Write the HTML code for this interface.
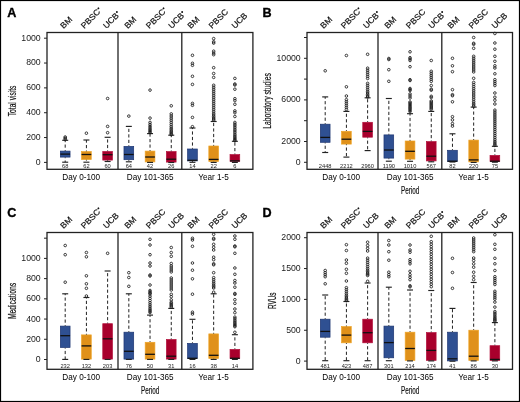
<!DOCTYPE html>
<html><head><meta charset="utf-8"><style>
html,body{margin:0;padding:0;background:#fff;}
body{width:520px;height:402px;overflow:hidden;}
svg{display:block;will-change:transform;}
</style></head><body>
<svg width="520" height="402" viewBox="0 0 520 402">
<rect x="0" y="0" width="520" height="402" fill="#fff"/>
<text x="7.3" y="16.6" font-size="12.6" font-weight="bold" stroke="#000" stroke-width="0.35" font-family="'Liberation Sans', sans-serif">A</text>
<rect x="60.35" y="151.1" width="9.7" height="6" fill="#2f5092" stroke="#1d3572" stroke-width="0.7"/>
<line x1="65.2" y1="150.8" x2="65.2" y2="140.3" stroke="#222" stroke-width="1" stroke-dasharray="3.2,2.3" stroke-dashoffset="2.4"/>
<line x1="65.2" y1="157.4" x2="65.2" y2="162.2" stroke="#222" stroke-width="1" stroke-dasharray="3.2,2.3" stroke-dashoffset="2.4"/>
<line x1="62.2" y1="140.3" x2="68.2" y2="140.3" stroke="#222" stroke-width="1.15"/>
<line x1="62.2" y1="162.2" x2="68.2" y2="162.2" stroke="#222" stroke-width="1.15"/>
<line x1="60.35" y1="154.1" x2="70.05" y2="154.1" stroke="#111" stroke-width="1.3"/>
<circle cx="65.2" cy="137" r="1.3" fill="none" stroke="#1a1a1a" stroke-width="0.85"/>
<circle cx="65.2" cy="138.2" r="1.3" fill="none" stroke="#1a1a1a" stroke-width="0.85"/>
<circle cx="65.2" cy="139.3" r="1.3" fill="none" stroke="#1a1a1a" stroke-width="0.85"/>
<text transform="translate(65.2,167.8) scale(1.08,1)" font-size="5.3" fill="#222" text-anchor="middle" font-family="'Liberation Sans', sans-serif">68</text>
<g transform="translate(63.6,29) rotate(-45)"><text x="0" y="0" font-size="8.2" transform="scale(1.05,1)" fill="#111" stroke="#111" stroke-width="0.2" font-family="'Liberation Sans', sans-serif">BM</text></g>
<rect x="81.56" y="151.6" width="9.7" height="7.9" fill="#e0911a" stroke="#eea426" stroke-width="0.7"/>
<line x1="86.41" y1="151.3" x2="86.41" y2="140" stroke="#222" stroke-width="1" stroke-dasharray="3.2,2.3" stroke-dashoffset="2.4"/>
<line x1="86.41" y1="159.8" x2="86.41" y2="162.2" stroke="#222" stroke-width="1" stroke-dasharray="3.2,2.3" stroke-dashoffset="2.4"/>
<line x1="83.41" y1="140" x2="89.41" y2="140" stroke="#222" stroke-width="1.15"/>
<line x1="83.41" y1="162.2" x2="89.41" y2="162.2" stroke="#222" stroke-width="1.15"/>
<line x1="81.56" y1="154.5" x2="91.26" y2="154.5" stroke="#111" stroke-width="1.3"/>
<circle cx="86.41" cy="133.2" r="1.3" fill="none" stroke="#1a1a1a" stroke-width="0.85"/>
<text transform="translate(86.41,167.8) scale(1.08,1)" font-size="5.3" fill="#222" text-anchor="middle" font-family="'Liberation Sans', sans-serif">62</text>
<g transform="translate(84.21,29) rotate(-45)"><text x="0" y="0" font-size="8.2" transform="scale(1.05,1)" fill="#111" stroke="#111" stroke-width="0.2" font-family="'Liberation Sans', sans-serif">PBSC</text><circle cx="24.65" cy="-4.6" r="0.95" fill="#111"/></g>
<rect x="102.77" y="151.5" width="9.7" height="8.6" fill="#a8002c" stroke="#b3123c" stroke-width="0.7"/>
<line x1="107.62" y1="151.2" x2="107.62" y2="137.3" stroke="#222" stroke-width="1" stroke-dasharray="3.2,2.3" stroke-dashoffset="2.4"/>
<line x1="107.62" y1="160.4" x2="107.62" y2="161.5" stroke="#222" stroke-width="1" stroke-dasharray="3.2,2.3" stroke-dashoffset="2.4"/>
<line x1="104.62" y1="137.3" x2="110.62" y2="137.3" stroke="#222" stroke-width="1.15"/>
<line x1="104.62" y1="161.5" x2="110.62" y2="161.5" stroke="#222" stroke-width="1.15"/>
<line x1="102.77" y1="154.7" x2="112.47" y2="154.7" stroke="#111" stroke-width="1.3"/>
<circle cx="107.62" cy="98.5" r="1.3" fill="none" stroke="#1a1a1a" stroke-width="0.85"/>
<circle cx="107.62" cy="126.4" r="1.3" fill="none" stroke="#1a1a1a" stroke-width="0.85"/>
<circle cx="107.62" cy="132.7" r="1.3" fill="none" stroke="#1a1a1a" stroke-width="0.85"/>
<text transform="translate(107.62,167.8) scale(1.08,1)" font-size="5.3" fill="#222" text-anchor="middle" font-family="'Liberation Sans', sans-serif">60</text>
<g transform="translate(106.42,29) rotate(-45)"><text x="0" y="0" font-size="8.2" transform="scale(1.05,1)" fill="#111" stroke="#111" stroke-width="0.2" font-family="'Liberation Sans', sans-serif">UCB</text><circle cx="19.38" cy="-4.6" r="0.95" fill="#111"/></g>
<rect x="123.98" y="146.4" width="9.7" height="13.3" fill="#2f5092" stroke="#1d3572" stroke-width="0.7"/>
<line x1="128.83" y1="146.1" x2="128.83" y2="126.4" stroke="#222" stroke-width="1" stroke-dasharray="3.2,2.3" stroke-dashoffset="2.4"/>
<line x1="128.83" y1="160" x2="128.83" y2="161.8" stroke="#222" stroke-width="1" stroke-dasharray="3.2,2.3" stroke-dashoffset="2.4"/>
<line x1="125.83" y1="126.4" x2="131.83" y2="126.4" stroke="#222" stroke-width="1.15"/>
<line x1="125.83" y1="161.8" x2="131.83" y2="161.8" stroke="#222" stroke-width="1.15"/>
<line x1="123.98" y1="154.5" x2="133.68" y2="154.5" stroke="#111" stroke-width="1.3"/>
<circle cx="128.83" cy="116.1" r="1.3" fill="none" stroke="#1a1a1a" stroke-width="0.85"/>
<text transform="translate(128.83,167.8) scale(1.08,1)" font-size="5.3" fill="#222" text-anchor="middle" font-family="'Liberation Sans', sans-serif">64</text>
<g transform="translate(127.73,29) rotate(-45)"><text x="0" y="0" font-size="8.2" transform="scale(1.05,1)" fill="#111" stroke="#111" stroke-width="0.2" font-family="'Liberation Sans', sans-serif">BM</text></g>
<rect x="145.19" y="151.1" width="9.7" height="10.8" fill="#e0911a" stroke="#eea426" stroke-width="0.7"/>
<line x1="150.04" y1="150.8" x2="150.04" y2="133.6" stroke="#222" stroke-width="1" stroke-dasharray="3.2,2.3" stroke-dashoffset="2.4"/>
<line x1="147.04" y1="133.6" x2="153.04" y2="133.6" stroke="#222" stroke-width="1.15"/>
<line x1="147.04" y1="162.4" x2="153.04" y2="162.4" stroke="#222" stroke-width="1.15"/>
<line x1="145.19" y1="157" x2="154.89" y2="157" stroke="#111" stroke-width="1.3"/>
<circle cx="150.04" cy="90.1" r="1.3" fill="none" stroke="#1a1a1a" stroke-width="0.85"/>
<circle cx="150.04" cy="118.1" r="1.3" fill="none" stroke="#1a1a1a" stroke-width="0.85"/>
<circle cx="150.04" cy="132.5" r="1.3" fill="none" stroke="#1a1a1a" stroke-width="0.85"/>
<circle cx="150.04" cy="131.5" r="1.3" fill="none" stroke="#1a1a1a" stroke-width="0.85"/>
<circle cx="150.04" cy="130.38" r="1.3" fill="none" stroke="#1a1a1a" stroke-width="0.85"/>
<circle cx="150.04" cy="129.13" r="1.3" fill="none" stroke="#1a1a1a" stroke-width="0.85"/>
<circle cx="150.04" cy="127.72" r="1.3" fill="none" stroke="#1a1a1a" stroke-width="0.85"/>
<circle cx="150.04" cy="126.15" r="1.3" fill="none" stroke="#1a1a1a" stroke-width="0.85"/>
<circle cx="150.04" cy="124.38" r="1.3" fill="none" stroke="#1a1a1a" stroke-width="0.85"/>
<circle cx="150.04" cy="122.41" r="1.3" fill="none" stroke="#1a1a1a" stroke-width="0.85"/>
<text transform="translate(150.04,167.8) scale(1.08,1)" font-size="5.3" fill="#222" text-anchor="middle" font-family="'Liberation Sans', sans-serif">42</text>
<g transform="translate(149.34,29) rotate(-45)"><text x="0" y="0" font-size="8.2" transform="scale(1.05,1)" fill="#111" stroke="#111" stroke-width="0.2" font-family="'Liberation Sans', sans-serif">PBSC</text><circle cx="24.65" cy="-4.6" r="0.95" fill="#111"/></g>
<rect x="166.4" y="151.6" width="9.7" height="10.5" fill="#a8002c" stroke="#b3123c" stroke-width="0.7"/>
<line x1="171.25" y1="151.3" x2="171.25" y2="135.2" stroke="#222" stroke-width="1" stroke-dasharray="3.2,2.3" stroke-dashoffset="2.4"/>
<line x1="168.25" y1="135.2" x2="174.25" y2="135.2" stroke="#222" stroke-width="1.15"/>
<line x1="168.25" y1="162.5" x2="174.25" y2="162.5" stroke="#222" stroke-width="1.15"/>
<line x1="166.4" y1="159.2" x2="176.1" y2="159.2" stroke="#111" stroke-width="1.3"/>
<circle cx="171.25" cy="105.8" r="1.3" fill="none" stroke="#1a1a1a" stroke-width="0.85"/>
<circle cx="171.25" cy="134.5" r="1.3" fill="none" stroke="#1a1a1a" stroke-width="0.85"/>
<circle cx="171.25" cy="133.5" r="1.3" fill="none" stroke="#1a1a1a" stroke-width="0.85"/>
<circle cx="171.25" cy="132.38" r="1.3" fill="none" stroke="#1a1a1a" stroke-width="0.85"/>
<circle cx="171.25" cy="131.13" r="1.3" fill="none" stroke="#1a1a1a" stroke-width="0.85"/>
<circle cx="171.25" cy="129.72" r="1.3" fill="none" stroke="#1a1a1a" stroke-width="0.85"/>
<circle cx="171.25" cy="128.15" r="1.3" fill="none" stroke="#1a1a1a" stroke-width="0.85"/>
<circle cx="171.25" cy="126.38" r="1.3" fill="none" stroke="#1a1a1a" stroke-width="0.85"/>
<circle cx="171.25" cy="124.41" r="1.3" fill="none" stroke="#1a1a1a" stroke-width="0.85"/>
<circle cx="171.25" cy="122.31" r="1.3" fill="none" stroke="#1a1a1a" stroke-width="0.85"/>
<circle cx="171.25" cy="120.21" r="1.3" fill="none" stroke="#1a1a1a" stroke-width="0.85"/>
<circle cx="171.25" cy="118.11" r="1.3" fill="none" stroke="#1a1a1a" stroke-width="0.85"/>
<circle cx="171.25" cy="116.01" r="1.3" fill="none" stroke="#1a1a1a" stroke-width="0.85"/>
<circle cx="171.25" cy="113.91" r="1.3" fill="none" stroke="#1a1a1a" stroke-width="0.85"/>
<text transform="translate(171.25,167.8) scale(1.08,1)" font-size="5.3" fill="#222" text-anchor="middle" font-family="'Liberation Sans', sans-serif">26</text>
<g transform="translate(171.7,29) rotate(-45)"><text x="0" y="0" font-size="8.2" transform="scale(1.05,1)" fill="#111" stroke="#111" stroke-width="0.2" font-family="'Liberation Sans', sans-serif">UCB</text><circle cx="19.38" cy="-4.6" r="0.95" fill="#111"/></g>
<rect x="187.61" y="149" width="9.7" height="11.9" fill="#2f5092" stroke="#1d3572" stroke-width="0.7"/>
<line x1="192.46" y1="148.7" x2="192.46" y2="128" stroke="#222" stroke-width="1" stroke-dasharray="3.2,2.3" stroke-dashoffset="2.4"/>
<line x1="192.46" y1="161.2" x2="192.46" y2="162.3" stroke="#222" stroke-width="1" stroke-dasharray="3.2,2.3" stroke-dashoffset="2.4"/>
<line x1="189.46" y1="128" x2="195.46" y2="128" stroke="#222" stroke-width="1.15"/>
<line x1="189.46" y1="162.3" x2="195.46" y2="162.3" stroke="#222" stroke-width="1.15"/>
<line x1="187.61" y1="160.3" x2="197.31" y2="160.3" stroke="#111" stroke-width="1.3"/>
<circle cx="192.46" cy="55.3" r="1.3" fill="none" stroke="#1a1a1a" stroke-width="0.85"/>
<circle cx="192.46" cy="63.3" r="1.3" fill="none" stroke="#1a1a1a" stroke-width="0.85"/>
<circle cx="192.46" cy="65.3" r="1.3" fill="none" stroke="#1a1a1a" stroke-width="0.85"/>
<circle cx="192.46" cy="76.3" r="1.3" fill="none" stroke="#1a1a1a" stroke-width="0.85"/>
<circle cx="192.46" cy="84.4" r="1.3" fill="none" stroke="#1a1a1a" stroke-width="0.85"/>
<circle cx="192.46" cy="103.4" r="1.3" fill="none" stroke="#1a1a1a" stroke-width="0.85"/>
<circle cx="192.46" cy="105.3" r="1.3" fill="none" stroke="#1a1a1a" stroke-width="0.85"/>
<circle cx="192.46" cy="117.4" r="1.3" fill="none" stroke="#1a1a1a" stroke-width="0.85"/>
<circle cx="192.46" cy="126.7" r="1.3" fill="none" stroke="#1a1a1a" stroke-width="0.85"/>
<text transform="translate(192.46,167.8) scale(1.08,1)" font-size="5.3" fill="#222" text-anchor="middle" font-family="'Liberation Sans', sans-serif">14</text>
<g transform="translate(190.86,29) rotate(-45)"><text x="0" y="0" font-size="8.2" transform="scale(1.05,1)" fill="#111" stroke="#111" stroke-width="0.2" font-family="'Liberation Sans', sans-serif">BM</text></g>
<rect x="208.82" y="146" width="9.7" height="15.5" fill="#e0911a" stroke="#eea426" stroke-width="0.7"/>
<line x1="213.67" y1="145.7" x2="213.67" y2="121.5" stroke="#222" stroke-width="1" stroke-dasharray="3.2,2.3" stroke-dashoffset="2.4"/>
<line x1="213.67" y1="161.8" x2="213.67" y2="162.4" stroke="#222" stroke-width="1" stroke-dasharray="3.2,2.3" stroke-dashoffset="2.4"/>
<line x1="210.67" y1="121.5" x2="216.67" y2="121.5" stroke="#222" stroke-width="1.15"/>
<line x1="210.67" y1="162.4" x2="216.67" y2="162.4" stroke="#222" stroke-width="1.15"/>
<line x1="208.82" y1="159.4" x2="218.52" y2="159.4" stroke="#111" stroke-width="1.3"/>
<circle cx="213.67" cy="38.6" r="1.3" fill="none" stroke="#1a1a1a" stroke-width="0.85"/>
<circle cx="213.67" cy="41.8" r="1.3" fill="none" stroke="#1a1a1a" stroke-width="0.85"/>
<circle cx="213.67" cy="43.1" r="1.3" fill="none" stroke="#1a1a1a" stroke-width="0.85"/>
<circle cx="213.67" cy="51.2" r="1.3" fill="none" stroke="#1a1a1a" stroke-width="0.85"/>
<circle cx="213.67" cy="53.1" r="1.3" fill="none" stroke="#1a1a1a" stroke-width="0.85"/>
<circle cx="213.67" cy="54.7" r="1.3" fill="none" stroke="#1a1a1a" stroke-width="0.85"/>
<circle cx="213.67" cy="67.7" r="1.3" fill="none" stroke="#1a1a1a" stroke-width="0.85"/>
<circle cx="213.67" cy="73.5" r="1.3" fill="none" stroke="#1a1a1a" stroke-width="0.85"/>
<circle cx="213.67" cy="77.4" r="1.3" fill="none" stroke="#1a1a1a" stroke-width="0.85"/>
<circle cx="213.67" cy="120.2" r="1.3" fill="none" stroke="#1a1a1a" stroke-width="0.85"/>
<circle cx="213.67" cy="119.1" r="1.3" fill="none" stroke="#1a1a1a" stroke-width="0.85"/>
<circle cx="213.67" cy="117.87" r="1.3" fill="none" stroke="#1a1a1a" stroke-width="0.85"/>
<circle cx="213.67" cy="116.49" r="1.3" fill="none" stroke="#1a1a1a" stroke-width="0.85"/>
<circle cx="213.67" cy="114.94" r="1.3" fill="none" stroke="#1a1a1a" stroke-width="0.85"/>
<circle cx="213.67" cy="113.21" r="1.3" fill="none" stroke="#1a1a1a" stroke-width="0.85"/>
<circle cx="213.67" cy="111.27" r="1.3" fill="none" stroke="#1a1a1a" stroke-width="0.85"/>
<circle cx="213.67" cy="109.27" r="1.3" fill="none" stroke="#1a1a1a" stroke-width="0.85"/>
<circle cx="213.67" cy="107.27" r="1.3" fill="none" stroke="#1a1a1a" stroke-width="0.85"/>
<circle cx="213.67" cy="105.27" r="1.3" fill="none" stroke="#1a1a1a" stroke-width="0.85"/>
<circle cx="213.67" cy="103.27" r="1.3" fill="none" stroke="#1a1a1a" stroke-width="0.85"/>
<circle cx="213.67" cy="101.27" r="1.3" fill="none" stroke="#1a1a1a" stroke-width="0.85"/>
<circle cx="213.67" cy="99.27" r="1.3" fill="none" stroke="#1a1a1a" stroke-width="0.85"/>
<circle cx="213.67" cy="97.27" r="1.3" fill="none" stroke="#1a1a1a" stroke-width="0.85"/>
<circle cx="213.67" cy="95.27" r="1.3" fill="none" stroke="#1a1a1a" stroke-width="0.85"/>
<circle cx="213.67" cy="93.27" r="1.3" fill="none" stroke="#1a1a1a" stroke-width="0.85"/>
<circle cx="213.67" cy="91.27" r="1.3" fill="none" stroke="#1a1a1a" stroke-width="0.85"/>
<circle cx="213.67" cy="89.27" r="1.3" fill="none" stroke="#1a1a1a" stroke-width="0.85"/>
<circle cx="213.67" cy="87.27" r="1.3" fill="none" stroke="#1a1a1a" stroke-width="0.85"/>
<circle cx="213.67" cy="85.27" r="1.3" fill="none" stroke="#1a1a1a" stroke-width="0.85"/>
<text transform="translate(213.67,167.8) scale(1.08,1)" font-size="5.3" fill="#222" text-anchor="middle" font-family="'Liberation Sans', sans-serif">22</text>
<g transform="translate(212.07,29) rotate(-45)"><text x="0" y="0" font-size="8.2" transform="scale(1.05,1)" fill="#111" stroke="#111" stroke-width="0.2" font-family="'Liberation Sans', sans-serif">PBSC</text></g>
<rect x="230.03" y="154.6" width="9.7" height="6.7" fill="#a8002c" stroke="#b3123c" stroke-width="0.7"/>
<line x1="234.88" y1="154.3" x2="234.88" y2="141.3" stroke="#222" stroke-width="1" stroke-dasharray="3.2,2.3" stroke-dashoffset="2.4"/>
<line x1="234.88" y1="161.6" x2="234.88" y2="162.4" stroke="#222" stroke-width="1" stroke-dasharray="3.2,2.3" stroke-dashoffset="2.4"/>
<line x1="231.88" y1="141.3" x2="237.88" y2="141.3" stroke="#222" stroke-width="1.15"/>
<line x1="231.88" y1="162.4" x2="237.88" y2="162.4" stroke="#222" stroke-width="1.15"/>
<line x1="230.03" y1="160.9" x2="239.73" y2="160.9" stroke="#111" stroke-width="1.3"/>
<circle cx="234.88" cy="78.4" r="1.3" fill="none" stroke="#1a1a1a" stroke-width="0.85"/>
<circle cx="234.88" cy="84" r="1.3" fill="none" stroke="#1a1a1a" stroke-width="0.85"/>
<circle cx="234.88" cy="85" r="1.3" fill="none" stroke="#1a1a1a" stroke-width="0.85"/>
<circle cx="234.88" cy="89.2" r="1.3" fill="none" stroke="#1a1a1a" stroke-width="0.85"/>
<circle cx="234.88" cy="98.7" r="1.3" fill="none" stroke="#1a1a1a" stroke-width="0.85"/>
<circle cx="234.88" cy="100.6" r="1.3" fill="none" stroke="#1a1a1a" stroke-width="0.85"/>
<circle cx="234.88" cy="104.3" r="1.3" fill="none" stroke="#1a1a1a" stroke-width="0.85"/>
<circle cx="234.88" cy="110.9" r="1.3" fill="none" stroke="#1a1a1a" stroke-width="0.85"/>
<circle cx="234.88" cy="112.7" r="1.3" fill="none" stroke="#1a1a1a" stroke-width="0.85"/>
<circle cx="234.88" cy="116.5" r="1.3" fill="none" stroke="#1a1a1a" stroke-width="0.85"/>
<circle cx="234.88" cy="140.7" r="1.3" fill="none" stroke="#1a1a1a" stroke-width="0.85"/>
<circle cx="234.88" cy="139.7" r="1.3" fill="none" stroke="#1a1a1a" stroke-width="0.85"/>
<circle cx="234.88" cy="138.58" r="1.3" fill="none" stroke="#1a1a1a" stroke-width="0.85"/>
<circle cx="234.88" cy="137.33" r="1.3" fill="none" stroke="#1a1a1a" stroke-width="0.85"/>
<circle cx="234.88" cy="135.92" r="1.3" fill="none" stroke="#1a1a1a" stroke-width="0.85"/>
<circle cx="234.88" cy="134.35" r="1.3" fill="none" stroke="#1a1a1a" stroke-width="0.85"/>
<circle cx="234.88" cy="132.65" r="1.3" fill="none" stroke="#1a1a1a" stroke-width="0.85"/>
<circle cx="234.88" cy="130.95" r="1.3" fill="none" stroke="#1a1a1a" stroke-width="0.85"/>
<circle cx="234.88" cy="129.25" r="1.3" fill="none" stroke="#1a1a1a" stroke-width="0.85"/>
<circle cx="234.88" cy="127.55" r="1.3" fill="none" stroke="#1a1a1a" stroke-width="0.85"/>
<circle cx="234.88" cy="125.85" r="1.3" fill="none" stroke="#1a1a1a" stroke-width="0.85"/>
<circle cx="234.88" cy="124.15" r="1.3" fill="none" stroke="#1a1a1a" stroke-width="0.85"/>
<circle cx="234.88" cy="122.45" r="1.3" fill="none" stroke="#1a1a1a" stroke-width="0.85"/>
<text transform="translate(234.88,167.8) scale(1.08,1)" font-size="5.3" fill="#222" text-anchor="middle" font-family="'Liberation Sans', sans-serif">6</text>
<g transform="translate(234.98,29) rotate(-45)"><text x="0" y="0" font-size="8.2" transform="scale(1.05,1)" fill="#111" stroke="#111" stroke-width="0.2" font-family="'Liberation Sans', sans-serif">UCB</text></g>
<rect x="47" y="32.5" width="205.9" height="136.8" fill="none" stroke="#222" stroke-width="1.3"/>
<line x1="118" y1="32.5" x2="118" y2="169.3" stroke="#222" stroke-width="1.3"/>
<line x1="181.8" y1="32.5" x2="181.8" y2="169.3" stroke="#222" stroke-width="1.3"/>
<line x1="44" y1="162.4" x2="47" y2="162.4" stroke="#222" stroke-width="1"/>
<text transform="translate(40.7,164.85) scale(1.04,1)" font-size="8.4" fill="#222" text-anchor="end" font-family="'Liberation Sans', sans-serif">0</text>
<line x1="44" y1="137.56" x2="47" y2="137.56" stroke="#222" stroke-width="1"/>
<text transform="translate(40.7,140.01) scale(1.04,1)" font-size="8.4" fill="#222" text-anchor="end" font-family="'Liberation Sans', sans-serif">200</text>
<line x1="44" y1="112.72" x2="47" y2="112.72" stroke="#222" stroke-width="1"/>
<text transform="translate(40.7,115.17) scale(1.04,1)" font-size="8.4" fill="#222" text-anchor="end" font-family="'Liberation Sans', sans-serif">400</text>
<line x1="44" y1="87.88" x2="47" y2="87.88" stroke="#222" stroke-width="1"/>
<text transform="translate(40.7,90.33) scale(1.04,1)" font-size="8.4" fill="#222" text-anchor="end" font-family="'Liberation Sans', sans-serif">600</text>
<line x1="44" y1="63.04" x2="47" y2="63.04" stroke="#222" stroke-width="1"/>
<text transform="translate(40.7,65.49) scale(1.04,1)" font-size="8.4" fill="#222" text-anchor="end" font-family="'Liberation Sans', sans-serif">800</text>
<line x1="44" y1="38.2" x2="47" y2="38.2" stroke="#222" stroke-width="1"/>
<text transform="translate(40.7,40.65) scale(1.04,1)" font-size="8.4" fill="#222" text-anchor="end" font-family="'Liberation Sans', sans-serif">1000</text>
<text x="81.2" y="180.2" font-size="8.2" fill="#000" text-anchor="middle" font-family="'Liberation Sans', sans-serif">Day 0-100</text>
<text x="150.2" y="180.2" font-size="8.2" fill="#000" text-anchor="middle" font-family="'Liberation Sans', sans-serif">Day 101-365</text>
<text x="213.5" y="180.2" font-size="8.2" fill="#000" text-anchor="middle" font-family="'Liberation Sans', sans-serif">Year 1-5</text>
<text transform="translate(15.9,100.9) rotate(-90) scale(0.616,1)" font-size="10.8" fill="#111" stroke="#111" stroke-width="0.2" text-anchor="middle" font-family="'Liberation Sans', sans-serif">Total visits</text>
<text x="262.6" y="16.6" font-size="12.6" font-weight="bold" stroke="#000" stroke-width="0.35" font-family="'Liberation Sans', sans-serif">B</text>
<rect x="320.35" y="124.2" width="9.7" height="18.1" fill="#2f5092" stroke="#1d3572" stroke-width="0.7"/>
<line x1="325.2" y1="123.9" x2="325.2" y2="96.9" stroke="#222" stroke-width="1" stroke-dasharray="3.2,2.3" stroke-dashoffset="2.4"/>
<line x1="325.2" y1="142.6" x2="325.2" y2="152.5" stroke="#222" stroke-width="1" stroke-dasharray="3.2,2.3" stroke-dashoffset="2.4"/>
<line x1="322.2" y1="96.9" x2="328.2" y2="96.9" stroke="#222" stroke-width="1.15"/>
<line x1="322.2" y1="152.5" x2="328.2" y2="152.5" stroke="#222" stroke-width="1.15"/>
<line x1="320.35" y1="137.4" x2="330.05" y2="137.4" stroke="#111" stroke-width="1.3"/>
<circle cx="325.2" cy="70.8" r="1.3" fill="none" stroke="#1a1a1a" stroke-width="0.85"/>
<text transform="translate(325.2,167.8) scale(1.08,1)" font-size="5.3" fill="#222" text-anchor="middle" font-family="'Liberation Sans', sans-serif">2448</text>
<g transform="translate(323.6,29) rotate(-45)"><text x="0" y="0" font-size="8.2" transform="scale(1.05,1)" fill="#111" stroke="#111" stroke-width="0.2" font-family="'Liberation Sans', sans-serif">BM</text></g>
<rect x="341.56" y="131.3" width="9.7" height="12.8" fill="#e0911a" stroke="#eea426" stroke-width="0.7"/>
<line x1="346.41" y1="131" x2="346.41" y2="111.4" stroke="#222" stroke-width="1" stroke-dasharray="3.2,2.3" stroke-dashoffset="2.4"/>
<line x1="346.41" y1="144.4" x2="346.41" y2="157.1" stroke="#222" stroke-width="1" stroke-dasharray="3.2,2.3" stroke-dashoffset="2.4"/>
<line x1="343.41" y1="111.4" x2="349.41" y2="111.4" stroke="#222" stroke-width="1.15"/>
<line x1="343.41" y1="157.1" x2="349.41" y2="157.1" stroke="#222" stroke-width="1.15"/>
<line x1="341.56" y1="139.2" x2="351.26" y2="139.2" stroke="#111" stroke-width="1.3"/>
<circle cx="346.41" cy="55.5" r="1.3" fill="none" stroke="#1a1a1a" stroke-width="0.85"/>
<circle cx="346.41" cy="86.8" r="1.3" fill="none" stroke="#1a1a1a" stroke-width="0.85"/>
<circle cx="346.41" cy="96" r="1.3" fill="none" stroke="#1a1a1a" stroke-width="0.85"/>
<circle cx="346.41" cy="99.7" r="1.3" fill="none" stroke="#1a1a1a" stroke-width="0.85"/>
<circle cx="346.41" cy="101.65" r="1.3" fill="none" stroke="#1a1a1a" stroke-width="0.85"/>
<circle cx="346.41" cy="103.6" r="1.3" fill="none" stroke="#1a1a1a" stroke-width="0.85"/>
<circle cx="346.41" cy="105.55" r="1.3" fill="none" stroke="#1a1a1a" stroke-width="0.85"/>
<circle cx="346.41" cy="107.5" r="1.3" fill="none" stroke="#1a1a1a" stroke-width="0.85"/>
<circle cx="346.41" cy="109.45" r="1.3" fill="none" stroke="#1a1a1a" stroke-width="0.85"/>
<text transform="translate(346.41,167.8) scale(1.08,1)" font-size="5.3" fill="#222" text-anchor="middle" font-family="'Liberation Sans', sans-serif">2212</text>
<g transform="translate(344.21,29) rotate(-45)"><text x="0" y="0" font-size="8.2" transform="scale(1.05,1)" fill="#111" stroke="#111" stroke-width="0.2" font-family="'Liberation Sans', sans-serif">PBSC</text><circle cx="24.65" cy="-4.6" r="0.95" fill="#111"/></g>
<rect x="362.77" y="122.3" width="9.7" height="14.9" fill="#a8002c" stroke="#b3123c" stroke-width="0.7"/>
<line x1="367.62" y1="122" x2="367.62" y2="97.8" stroke="#222" stroke-width="1" stroke-dasharray="3.2,2.3" stroke-dashoffset="2.4"/>
<line x1="367.62" y1="137.5" x2="367.62" y2="150.6" stroke="#222" stroke-width="1" stroke-dasharray="3.2,2.3" stroke-dashoffset="2.4"/>
<line x1="364.62" y1="97.8" x2="370.62" y2="97.8" stroke="#222" stroke-width="1.15"/>
<line x1="364.62" y1="150.6" x2="370.62" y2="150.6" stroke="#222" stroke-width="1.15"/>
<line x1="362.77" y1="131.4" x2="372.47" y2="131.4" stroke="#111" stroke-width="1.3"/>
<circle cx="367.62" cy="54.3" r="1.3" fill="none" stroke="#1a1a1a" stroke-width="0.85"/>
<circle cx="367.62" cy="68.2" r="1.3" fill="none" stroke="#1a1a1a" stroke-width="0.85"/>
<circle cx="367.62" cy="70.25" r="1.3" fill="none" stroke="#1a1a1a" stroke-width="0.85"/>
<circle cx="367.62" cy="72.3" r="1.3" fill="none" stroke="#1a1a1a" stroke-width="0.85"/>
<circle cx="367.62" cy="74.35" r="1.3" fill="none" stroke="#1a1a1a" stroke-width="0.85"/>
<circle cx="367.62" cy="76.4" r="1.3" fill="none" stroke="#1a1a1a" stroke-width="0.85"/>
<circle cx="367.62" cy="78.45" r="1.3" fill="none" stroke="#1a1a1a" stroke-width="0.85"/>
<circle cx="367.62" cy="97" r="1.3" fill="none" stroke="#1a1a1a" stroke-width="0.85"/>
<circle cx="367.62" cy="95.8" r="1.3" fill="none" stroke="#1a1a1a" stroke-width="0.85"/>
<circle cx="367.62" cy="94.46" r="1.3" fill="none" stroke="#1a1a1a" stroke-width="0.85"/>
<circle cx="367.62" cy="92.95" r="1.3" fill="none" stroke="#1a1a1a" stroke-width="0.85"/>
<circle cx="367.62" cy="91.26" r="1.3" fill="none" stroke="#1a1a1a" stroke-width="0.85"/>
<circle cx="367.62" cy="89.38" r="1.3" fill="none" stroke="#1a1a1a" stroke-width="0.85"/>
<circle cx="367.62" cy="87.38" r="1.3" fill="none" stroke="#1a1a1a" stroke-width="0.85"/>
<circle cx="367.62" cy="85.38" r="1.3" fill="none" stroke="#1a1a1a" stroke-width="0.85"/>
<circle cx="367.62" cy="83.38" r="1.3" fill="none" stroke="#1a1a1a" stroke-width="0.85"/>
<text transform="translate(367.62,167.8) scale(1.08,1)" font-size="5.3" fill="#222" text-anchor="middle" font-family="'Liberation Sans', sans-serif">2960</text>
<g transform="translate(366.42,29) rotate(-45)"><text x="0" y="0" font-size="8.2" transform="scale(1.05,1)" fill="#111" stroke="#111" stroke-width="0.2" font-family="'Liberation Sans', sans-serif">UCB</text><circle cx="19.38" cy="-4.6" r="0.95" fill="#111"/></g>
<rect x="383.98" y="134.9" width="9.7" height="23.2" fill="#2f5092" stroke="#1d3572" stroke-width="0.7"/>
<line x1="388.83" y1="134.6" x2="388.83" y2="98.5" stroke="#222" stroke-width="1" stroke-dasharray="3.2,2.3" stroke-dashoffset="2.4"/>
<line x1="388.83" y1="158.4" x2="388.83" y2="161.2" stroke="#222" stroke-width="1" stroke-dasharray="3.2,2.3" stroke-dashoffset="2.4"/>
<line x1="385.83" y1="98.5" x2="391.83" y2="98.5" stroke="#222" stroke-width="1.15"/>
<line x1="385.83" y1="161.2" x2="391.83" y2="161.2" stroke="#222" stroke-width="1.15"/>
<line x1="383.98" y1="150" x2="393.68" y2="150" stroke="#111" stroke-width="1.3"/>
<circle cx="388.83" cy="58.5" r="1.3" fill="none" stroke="#1a1a1a" stroke-width="0.85"/>
<circle cx="388.83" cy="59.5" r="1.3" fill="none" stroke="#1a1a1a" stroke-width="0.85"/>
<circle cx="388.83" cy="69.7" r="1.3" fill="none" stroke="#1a1a1a" stroke-width="0.85"/>
<circle cx="388.83" cy="81.3" r="1.3" fill="none" stroke="#1a1a1a" stroke-width="0.85"/>
<text transform="translate(388.83,167.8) scale(1.08,1)" font-size="5.3" fill="#222" text-anchor="middle" font-family="'Liberation Sans', sans-serif">1190</text>
<g transform="translate(387.73,29) rotate(-45)"><text x="0" y="0" font-size="8.2" transform="scale(1.05,1)" fill="#111" stroke="#111" stroke-width="0.2" font-family="'Liberation Sans', sans-serif">BM</text></g>
<rect x="405.19" y="141" width="9.7" height="18.1" fill="#e0911a" stroke="#eea426" stroke-width="0.7"/>
<line x1="410.04" y1="140.7" x2="410.04" y2="113.7" stroke="#222" stroke-width="1" stroke-dasharray="3.2,2.3" stroke-dashoffset="2.4"/>
<line x1="410.04" y1="159.4" x2="410.04" y2="161.3" stroke="#222" stroke-width="1" stroke-dasharray="3.2,2.3" stroke-dashoffset="2.4"/>
<line x1="407.04" y1="113.7" x2="413.04" y2="113.7" stroke="#222" stroke-width="1.15"/>
<line x1="407.04" y1="161.3" x2="413.04" y2="161.3" stroke="#222" stroke-width="1.15"/>
<line x1="405.19" y1="151.3" x2="414.89" y2="151.3" stroke="#111" stroke-width="1.3"/>
<circle cx="410.04" cy="51.8" r="1.3" fill="none" stroke="#1a1a1a" stroke-width="0.85"/>
<circle cx="410.04" cy="57.7" r="1.3" fill="none" stroke="#1a1a1a" stroke-width="0.85"/>
<circle cx="410.04" cy="59" r="1.3" fill="none" stroke="#1a1a1a" stroke-width="0.85"/>
<circle cx="410.04" cy="60.5" r="1.3" fill="none" stroke="#1a1a1a" stroke-width="0.85"/>
<circle cx="410.04" cy="66.7" r="1.3" fill="none" stroke="#1a1a1a" stroke-width="0.85"/>
<circle cx="410.04" cy="79.7" r="1.3" fill="none" stroke="#1a1a1a" stroke-width="0.85"/>
<circle cx="410.04" cy="80.5" r="1.3" fill="none" stroke="#1a1a1a" stroke-width="0.85"/>
<circle cx="410.04" cy="88.5" r="1.3" fill="none" stroke="#1a1a1a" stroke-width="0.85"/>
<circle cx="410.04" cy="89.5" r="1.3" fill="none" stroke="#1a1a1a" stroke-width="0.85"/>
<circle cx="410.04" cy="90.5" r="1.3" fill="none" stroke="#1a1a1a" stroke-width="0.85"/>
<circle cx="410.04" cy="94" r="1.3" fill="none" stroke="#1a1a1a" stroke-width="0.85"/>
<circle cx="410.04" cy="96" r="1.3" fill="none" stroke="#1a1a1a" stroke-width="0.85"/>
<circle cx="410.04" cy="98" r="1.3" fill="none" stroke="#1a1a1a" stroke-width="0.85"/>
<circle cx="410.04" cy="102" r="1.3" fill="none" stroke="#1a1a1a" stroke-width="0.85"/>
<circle cx="410.04" cy="103.2" r="1.3" fill="none" stroke="#1a1a1a" stroke-width="0.85"/>
<circle cx="410.04" cy="104.4" r="1.3" fill="none" stroke="#1a1a1a" stroke-width="0.85"/>
<circle cx="410.04" cy="105.6" r="1.3" fill="none" stroke="#1a1a1a" stroke-width="0.85"/>
<circle cx="410.04" cy="106.8" r="1.3" fill="none" stroke="#1a1a1a" stroke-width="0.85"/>
<circle cx="410.04" cy="108" r="1.3" fill="none" stroke="#1a1a1a" stroke-width="0.85"/>
<circle cx="410.04" cy="109.2" r="1.3" fill="none" stroke="#1a1a1a" stroke-width="0.85"/>
<circle cx="410.04" cy="110.4" r="1.3" fill="none" stroke="#1a1a1a" stroke-width="0.85"/>
<circle cx="410.04" cy="111.6" r="1.3" fill="none" stroke="#1a1a1a" stroke-width="0.85"/>
<text transform="translate(410.04,167.8) scale(1.08,1)" font-size="5.3" fill="#222" text-anchor="middle" font-family="'Liberation Sans', sans-serif">1010</text>
<g transform="translate(409.34,29) rotate(-45)"><text x="0" y="0" font-size="8.2" transform="scale(1.05,1)" fill="#111" stroke="#111" stroke-width="0.2" font-family="'Liberation Sans', sans-serif">PBSC</text></g>
<rect x="426.4" y="141.6" width="9.7" height="19.3" fill="#a8002c" stroke="#b3123c" stroke-width="0.7"/>
<line x1="431.25" y1="141.3" x2="431.25" y2="111.4" stroke="#222" stroke-width="1" stroke-dasharray="3.2,2.3" stroke-dashoffset="2.4"/>
<line x1="431.25" y1="161.2" x2="431.25" y2="161.8" stroke="#222" stroke-width="1" stroke-dasharray="3.2,2.3" stroke-dashoffset="2.4"/>
<line x1="428.25" y1="111.4" x2="434.25" y2="111.4" stroke="#222" stroke-width="1.15"/>
<line x1="428.25" y1="161.8" x2="434.25" y2="161.8" stroke="#222" stroke-width="1.15"/>
<line x1="426.4" y1="156.2" x2="436.1" y2="156.2" stroke="#111" stroke-width="1.3"/>
<circle cx="431.25" cy="60.5" r="1.3" fill="none" stroke="#1a1a1a" stroke-width="0.85"/>
<circle cx="431.25" cy="71.3" r="1.3" fill="none" stroke="#1a1a1a" stroke-width="0.85"/>
<circle cx="431.25" cy="73.3" r="1.3" fill="none" stroke="#1a1a1a" stroke-width="0.85"/>
<circle cx="431.25" cy="75.3" r="1.3" fill="none" stroke="#1a1a1a" stroke-width="0.85"/>
<circle cx="431.25" cy="77.3" r="1.3" fill="none" stroke="#1a1a1a" stroke-width="0.85"/>
<circle cx="431.25" cy="79.3" r="1.3" fill="none" stroke="#1a1a1a" stroke-width="0.85"/>
<circle cx="431.25" cy="81.3" r="1.3" fill="none" stroke="#1a1a1a" stroke-width="0.85"/>
<circle cx="431.25" cy="85.5" r="1.3" fill="none" stroke="#1a1a1a" stroke-width="0.85"/>
<circle cx="431.25" cy="89.2" r="1.3" fill="none" stroke="#1a1a1a" stroke-width="0.85"/>
<circle cx="431.25" cy="90.2" r="1.3" fill="none" stroke="#1a1a1a" stroke-width="0.85"/>
<circle cx="431.25" cy="96.3" r="1.3" fill="none" stroke="#1a1a1a" stroke-width="0.85"/>
<circle cx="431.25" cy="97.5" r="1.3" fill="none" stroke="#1a1a1a" stroke-width="0.85"/>
<circle cx="431.25" cy="101" r="1.3" fill="none" stroke="#1a1a1a" stroke-width="0.85"/>
<circle cx="431.25" cy="102.2" r="1.3" fill="none" stroke="#1a1a1a" stroke-width="0.85"/>
<circle cx="431.25" cy="103.4" r="1.3" fill="none" stroke="#1a1a1a" stroke-width="0.85"/>
<circle cx="431.25" cy="104.6" r="1.3" fill="none" stroke="#1a1a1a" stroke-width="0.85"/>
<circle cx="431.25" cy="105.8" r="1.3" fill="none" stroke="#1a1a1a" stroke-width="0.85"/>
<circle cx="431.25" cy="107" r="1.3" fill="none" stroke="#1a1a1a" stroke-width="0.85"/>
<circle cx="431.25" cy="108.2" r="1.3" fill="none" stroke="#1a1a1a" stroke-width="0.85"/>
<circle cx="431.25" cy="109.4" r="1.3" fill="none" stroke="#1a1a1a" stroke-width="0.85"/>
<text transform="translate(431.25,167.8) scale(1.08,1)" font-size="5.3" fill="#222" text-anchor="middle" font-family="'Liberation Sans', sans-serif">567</text>
<g transform="translate(431.7,29) rotate(-45)"><text x="0" y="0" font-size="8.2" transform="scale(1.05,1)" fill="#111" stroke="#111" stroke-width="0.2" font-family="'Liberation Sans', sans-serif">UCB</text><circle cx="19.38" cy="-4.6" r="0.95" fill="#111"/></g>
<rect x="447.61" y="150.3" width="9.7" height="11.2" fill="#2f5092" stroke="#1d3572" stroke-width="0.7"/>
<line x1="452.46" y1="150" x2="452.46" y2="133.8" stroke="#222" stroke-width="1" stroke-dasharray="3.2,2.3" stroke-dashoffset="2.4"/>
<line x1="449.46" y1="133.8" x2="455.46" y2="133.8" stroke="#222" stroke-width="1.15"/>
<line x1="449.46" y1="162" x2="455.46" y2="162" stroke="#222" stroke-width="1.15"/>
<line x1="447.61" y1="161.2" x2="457.31" y2="161.2" stroke="#111" stroke-width="1.3"/>
<circle cx="452.46" cy="58.3" r="1.3" fill="none" stroke="#1a1a1a" stroke-width="0.85"/>
<circle cx="452.46" cy="65.8" r="1.3" fill="none" stroke="#1a1a1a" stroke-width="0.85"/>
<circle cx="452.46" cy="71.7" r="1.3" fill="none" stroke="#1a1a1a" stroke-width="0.85"/>
<circle cx="452.46" cy="89.7" r="1.3" fill="none" stroke="#1a1a1a" stroke-width="0.85"/>
<circle cx="452.46" cy="94.7" r="1.3" fill="none" stroke="#1a1a1a" stroke-width="0.85"/>
<circle cx="452.46" cy="95.7" r="1.3" fill="none" stroke="#1a1a1a" stroke-width="0.85"/>
<circle cx="452.46" cy="101.8" r="1.3" fill="none" stroke="#1a1a1a" stroke-width="0.85"/>
<circle cx="452.46" cy="116.7" r="1.3" fill="none" stroke="#1a1a1a" stroke-width="0.85"/>
<circle cx="452.46" cy="119.9" r="1.3" fill="none" stroke="#1a1a1a" stroke-width="0.85"/>
<circle cx="452.46" cy="123.6" r="1.3" fill="none" stroke="#1a1a1a" stroke-width="0.85"/>
<circle cx="452.46" cy="126.1" r="1.3" fill="none" stroke="#1a1a1a" stroke-width="0.85"/>
<text transform="translate(452.46,167.8) scale(1.08,1)" font-size="5.3" fill="#222" text-anchor="middle" font-family="'Liberation Sans', sans-serif">82</text>
<g transform="translate(450.86,29) rotate(-45)"><text x="0" y="0" font-size="8.2" transform="scale(1.05,1)" fill="#111" stroke="#111" stroke-width="0.2" font-family="'Liberation Sans', sans-serif">BM</text></g>
<rect x="468.82" y="140.1" width="9.7" height="21.8" fill="#e0911a" stroke="#eea426" stroke-width="0.7"/>
<line x1="473.67" y1="139.8" x2="473.67" y2="107.1" stroke="#222" stroke-width="1" stroke-dasharray="3.2,2.3" stroke-dashoffset="2.4"/>
<line x1="470.67" y1="107.1" x2="476.67" y2="107.1" stroke="#222" stroke-width="1.15"/>
<line x1="470.67" y1="162.4" x2="476.67" y2="162.4" stroke="#222" stroke-width="1.15"/>
<line x1="468.82" y1="159.9" x2="478.52" y2="159.9" stroke="#111" stroke-width="1.3"/>
<circle cx="473.67" cy="37.5" r="1.3" fill="none" stroke="#1a1a1a" stroke-width="0.85"/>
<circle cx="473.67" cy="43.3" r="1.3" fill="none" stroke="#1a1a1a" stroke-width="0.85"/>
<circle cx="473.67" cy="44.3" r="1.3" fill="none" stroke="#1a1a1a" stroke-width="0.85"/>
<circle cx="473.67" cy="48.3" r="1.3" fill="none" stroke="#1a1a1a" stroke-width="0.85"/>
<circle cx="473.67" cy="56.3" r="1.3" fill="none" stroke="#1a1a1a" stroke-width="0.85"/>
<circle cx="473.67" cy="58.25" r="1.3" fill="none" stroke="#1a1a1a" stroke-width="0.85"/>
<circle cx="473.67" cy="60.2" r="1.3" fill="none" stroke="#1a1a1a" stroke-width="0.85"/>
<circle cx="473.67" cy="62.15" r="1.3" fill="none" stroke="#1a1a1a" stroke-width="0.85"/>
<circle cx="473.67" cy="64.1" r="1.3" fill="none" stroke="#1a1a1a" stroke-width="0.85"/>
<circle cx="473.67" cy="66.05" r="1.3" fill="none" stroke="#1a1a1a" stroke-width="0.85"/>
<circle cx="473.67" cy="68" r="1.3" fill="none" stroke="#1a1a1a" stroke-width="0.85"/>
<circle cx="473.67" cy="69.95" r="1.3" fill="none" stroke="#1a1a1a" stroke-width="0.85"/>
<circle cx="473.67" cy="71.9" r="1.3" fill="none" stroke="#1a1a1a" stroke-width="0.85"/>
<circle cx="473.67" cy="78.3" r="1.3" fill="none" stroke="#1a1a1a" stroke-width="0.85"/>
<circle cx="473.67" cy="106.2" r="1.3" fill="none" stroke="#1a1a1a" stroke-width="0.85"/>
<circle cx="473.67" cy="104.8" r="1.3" fill="none" stroke="#1a1a1a" stroke-width="0.85"/>
<circle cx="473.67" cy="103.19" r="1.3" fill="none" stroke="#1a1a1a" stroke-width="0.85"/>
<circle cx="473.67" cy="101.34" r="1.3" fill="none" stroke="#1a1a1a" stroke-width="0.85"/>
<circle cx="473.67" cy="99.24" r="1.3" fill="none" stroke="#1a1a1a" stroke-width="0.85"/>
<circle cx="473.67" cy="97.14" r="1.3" fill="none" stroke="#1a1a1a" stroke-width="0.85"/>
<circle cx="473.67" cy="95.04" r="1.3" fill="none" stroke="#1a1a1a" stroke-width="0.85"/>
<circle cx="473.67" cy="92.94" r="1.3" fill="none" stroke="#1a1a1a" stroke-width="0.85"/>
<circle cx="473.67" cy="90.84" r="1.3" fill="none" stroke="#1a1a1a" stroke-width="0.85"/>
<circle cx="473.67" cy="88.74" r="1.3" fill="none" stroke="#1a1a1a" stroke-width="0.85"/>
<circle cx="473.67" cy="86.64" r="1.3" fill="none" stroke="#1a1a1a" stroke-width="0.85"/>
<circle cx="473.67" cy="84.54" r="1.3" fill="none" stroke="#1a1a1a" stroke-width="0.85"/>
<circle cx="473.67" cy="82.44" r="1.3" fill="none" stroke="#1a1a1a" stroke-width="0.85"/>
<text transform="translate(473.67,167.8) scale(1.08,1)" font-size="5.3" fill="#222" text-anchor="middle" font-family="'Liberation Sans', sans-serif">220</text>
<g transform="translate(472.07,29) rotate(-45)"><text x="0" y="0" font-size="8.2" transform="scale(1.05,1)" fill="#111" stroke="#111" stroke-width="0.2" font-family="'Liberation Sans', sans-serif">PBSC</text></g>
<rect x="490.03" y="155.4" width="9.7" height="6.1" fill="#a8002c" stroke="#b3123c" stroke-width="0.7"/>
<line x1="494.88" y1="155.1" x2="494.88" y2="146.3" stroke="#222" stroke-width="1" stroke-dasharray="3.2,2.3" stroke-dashoffset="2.4"/>
<line x1="494.88" y1="161.8" x2="494.88" y2="162.2" stroke="#222" stroke-width="1" stroke-dasharray="3.2,2.3" stroke-dashoffset="2.4"/>
<line x1="491.88" y1="146.3" x2="497.88" y2="146.3" stroke="#222" stroke-width="1.15"/>
<line x1="491.88" y1="162.2" x2="497.88" y2="162.2" stroke="#222" stroke-width="1.15"/>
<line x1="490.03" y1="161.2" x2="499.73" y2="161.2" stroke="#111" stroke-width="1.3"/>
<circle cx="494.88" cy="33.5" r="1.3" fill="none" stroke="#1a1a1a" stroke-width="0.85"/>
<circle cx="494.88" cy="43" r="1.3" fill="none" stroke="#1a1a1a" stroke-width="0.85"/>
<circle cx="494.88" cy="49.2" r="1.3" fill="none" stroke="#1a1a1a" stroke-width="0.85"/>
<circle cx="494.88" cy="56.3" r="1.3" fill="none" stroke="#1a1a1a" stroke-width="0.85"/>
<circle cx="494.88" cy="61.3" r="1.3" fill="none" stroke="#1a1a1a" stroke-width="0.85"/>
<circle cx="494.88" cy="65.8" r="1.3" fill="none" stroke="#1a1a1a" stroke-width="0.85"/>
<circle cx="494.88" cy="68" r="1.3" fill="none" stroke="#1a1a1a" stroke-width="0.85"/>
<circle cx="494.88" cy="73.8" r="1.3" fill="none" stroke="#1a1a1a" stroke-width="0.85"/>
<circle cx="494.88" cy="79.7" r="1.3" fill="none" stroke="#1a1a1a" stroke-width="0.85"/>
<circle cx="494.88" cy="81.65" r="1.3" fill="none" stroke="#1a1a1a" stroke-width="0.85"/>
<circle cx="494.88" cy="83.6" r="1.3" fill="none" stroke="#1a1a1a" stroke-width="0.85"/>
<circle cx="494.88" cy="85.55" r="1.3" fill="none" stroke="#1a1a1a" stroke-width="0.85"/>
<circle cx="494.88" cy="93" r="1.3" fill="none" stroke="#1a1a1a" stroke-width="0.85"/>
<circle cx="494.88" cy="97.2" r="1.3" fill="none" stroke="#1a1a1a" stroke-width="0.85"/>
<circle cx="494.88" cy="100.2" r="1.3" fill="none" stroke="#1a1a1a" stroke-width="0.85"/>
<circle cx="494.88" cy="104" r="1.3" fill="none" stroke="#1a1a1a" stroke-width="0.85"/>
<circle cx="494.88" cy="145.4" r="1.3" fill="none" stroke="#1a1a1a" stroke-width="0.85"/>
<circle cx="494.88" cy="144.2" r="1.3" fill="none" stroke="#1a1a1a" stroke-width="0.85"/>
<circle cx="494.88" cy="142.82" r="1.3" fill="none" stroke="#1a1a1a" stroke-width="0.85"/>
<circle cx="494.88" cy="141.23" r="1.3" fill="none" stroke="#1a1a1a" stroke-width="0.85"/>
<circle cx="494.88" cy="139.41" r="1.3" fill="none" stroke="#1a1a1a" stroke-width="0.85"/>
<circle cx="494.88" cy="137.46" r="1.3" fill="none" stroke="#1a1a1a" stroke-width="0.85"/>
<circle cx="494.88" cy="135.51" r="1.3" fill="none" stroke="#1a1a1a" stroke-width="0.85"/>
<circle cx="494.88" cy="133.56" r="1.3" fill="none" stroke="#1a1a1a" stroke-width="0.85"/>
<circle cx="494.88" cy="131.61" r="1.3" fill="none" stroke="#1a1a1a" stroke-width="0.85"/>
<circle cx="494.88" cy="129.66" r="1.3" fill="none" stroke="#1a1a1a" stroke-width="0.85"/>
<circle cx="494.88" cy="127.71" r="1.3" fill="none" stroke="#1a1a1a" stroke-width="0.85"/>
<circle cx="494.88" cy="125.76" r="1.3" fill="none" stroke="#1a1a1a" stroke-width="0.85"/>
<circle cx="494.88" cy="123.81" r="1.3" fill="none" stroke="#1a1a1a" stroke-width="0.85"/>
<circle cx="494.88" cy="121.86" r="1.3" fill="none" stroke="#1a1a1a" stroke-width="0.85"/>
<circle cx="494.88" cy="119.91" r="1.3" fill="none" stroke="#1a1a1a" stroke-width="0.85"/>
<circle cx="494.88" cy="117.96" r="1.3" fill="none" stroke="#1a1a1a" stroke-width="0.85"/>
<circle cx="494.88" cy="116.01" r="1.3" fill="none" stroke="#1a1a1a" stroke-width="0.85"/>
<circle cx="494.88" cy="114.06" r="1.3" fill="none" stroke="#1a1a1a" stroke-width="0.85"/>
<circle cx="494.88" cy="112.11" r="1.3" fill="none" stroke="#1a1a1a" stroke-width="0.85"/>
<circle cx="494.88" cy="110.16" r="1.3" fill="none" stroke="#1a1a1a" stroke-width="0.85"/>
<text transform="translate(494.88,167.8) scale(1.08,1)" font-size="5.3" fill="#222" text-anchor="middle" font-family="'Liberation Sans', sans-serif">75</text>
<g transform="translate(494.98,29) rotate(-45)"><text x="0" y="0" font-size="8.2" transform="scale(1.05,1)" fill="#111" stroke="#111" stroke-width="0.2" font-family="'Liberation Sans', sans-serif">UCB</text></g>
<rect x="307" y="32.5" width="205.5" height="136.8" fill="none" stroke="#222" stroke-width="1.3"/>
<line x1="378" y1="32.5" x2="378" y2="169.3" stroke="#222" stroke-width="1.3"/>
<line x1="441.8" y1="32.5" x2="441.8" y2="169.3" stroke="#222" stroke-width="1.3"/>
<line x1="304" y1="162.3" x2="307" y2="162.3" stroke="#222" stroke-width="1"/>
<text transform="translate(300.7,164.75) scale(1.04,1)" font-size="8.4" fill="#222" text-anchor="end" font-family="'Liberation Sans', sans-serif">0</text>
<line x1="304" y1="141.5" x2="307" y2="141.5" stroke="#222" stroke-width="1"/>
<text transform="translate(300.7,143.95) scale(1.04,1)" font-size="8.4" fill="#222" text-anchor="end" font-family="'Liberation Sans', sans-serif">2000</text>
<line x1="304" y1="120.7" x2="307" y2="120.7" stroke="#222" stroke-width="1"/>
<line x1="304" y1="99.9" x2="307" y2="99.9" stroke="#222" stroke-width="1"/>
<text transform="translate(300.7,102.35) scale(1.04,1)" font-size="8.4" fill="#222" text-anchor="end" font-family="'Liberation Sans', sans-serif">6000</text>
<line x1="304" y1="79.1" x2="307" y2="79.1" stroke="#222" stroke-width="1"/>
<line x1="304" y1="58.3" x2="307" y2="58.3" stroke="#222" stroke-width="1"/>
<text transform="translate(300.7,60.75) scale(1.04,1)" font-size="8.4" fill="#222" text-anchor="end" font-family="'Liberation Sans', sans-serif">10000</text>
<line x1="304" y1="37.5" x2="307" y2="37.5" stroke="#222" stroke-width="1"/>
<text x="341.2" y="180.2" font-size="8.2" fill="#000" text-anchor="middle" font-family="'Liberation Sans', sans-serif">Day 0-100</text>
<text x="410.2" y="180.2" font-size="8.2" fill="#000" text-anchor="middle" font-family="'Liberation Sans', sans-serif">Day 101-365</text>
<text x="473.5" y="180.2" font-size="8.2" fill="#000" text-anchor="middle" font-family="'Liberation Sans', sans-serif">Year 1-5</text>
<text transform="translate(410.1,193.6) scale(0.59,1)" font-size="10.8" fill="#111" stroke="#111" stroke-width="0.2" text-anchor="middle" font-family="'Liberation Sans', sans-serif">Period</text>
<text transform="translate(270.6,101) rotate(-90) scale(0.628,1)" font-size="10.8" fill="#111" stroke="#111" stroke-width="0.2" text-anchor="middle" font-family="'Liberation Sans', sans-serif">Laboratory studies</text>
<text x="7.3" y="216.6" font-size="12.6" font-weight="bold" stroke="#000" stroke-width="0.35" font-family="'Liberation Sans', sans-serif">C</text>
<rect x="60.35" y="326.1" width="9.7" height="21.4" fill="#2f5092" stroke="#1d3572" stroke-width="0.7"/>
<line x1="65.2" y1="325.8" x2="65.2" y2="293.8" stroke="#222" stroke-width="1" stroke-dasharray="3.2,2.3" stroke-dashoffset="2.4"/>
<line x1="65.2" y1="347.8" x2="65.2" y2="359.4" stroke="#222" stroke-width="1" stroke-dasharray="3.2,2.3" stroke-dashoffset="2.4"/>
<line x1="62.2" y1="293.8" x2="68.2" y2="293.8" stroke="#222" stroke-width="1.15"/>
<line x1="62.2" y1="359.4" x2="68.2" y2="359.4" stroke="#222" stroke-width="1.15"/>
<line x1="60.35" y1="335.7" x2="70.05" y2="335.7" stroke="#111" stroke-width="1.3"/>
<circle cx="65.2" cy="245.5" r="1.3" fill="none" stroke="#1a1a1a" stroke-width="0.85"/>
<circle cx="65.2" cy="254.7" r="1.3" fill="none" stroke="#1a1a1a" stroke-width="0.85"/>
<circle cx="65.2" cy="282.2" r="1.3" fill="none" stroke="#1a1a1a" stroke-width="0.85"/>
<text transform="translate(65.2,367.8) scale(1.08,1)" font-size="5.3" fill="#222" text-anchor="middle" font-family="'Liberation Sans', sans-serif">232</text>
<g transform="translate(63.6,229) rotate(-45)"><text x="0" y="0" font-size="8.2" transform="scale(1.05,1)" fill="#111" stroke="#111" stroke-width="0.2" font-family="'Liberation Sans', sans-serif">BM</text></g>
<rect x="81.56" y="334.9" width="9.7" height="24.2" fill="#e0911a" stroke="#eea426" stroke-width="0.7"/>
<line x1="86.41" y1="334.6" x2="86.41" y2="297.5" stroke="#222" stroke-width="1" stroke-dasharray="3.2,2.3" stroke-dashoffset="2.4"/>
<line x1="83.41" y1="297.5" x2="89.41" y2="297.5" stroke="#222" stroke-width="1.15"/>
<line x1="83.41" y1="359.4" x2="89.41" y2="359.4" stroke="#222" stroke-width="1.15"/>
<line x1="81.56" y1="345.9" x2="91.26" y2="345.9" stroke="#111" stroke-width="1.3"/>
<circle cx="86.41" cy="252.5" r="1.3" fill="none" stroke="#1a1a1a" stroke-width="0.85"/>
<circle cx="86.41" cy="256.8" r="1.3" fill="none" stroke="#1a1a1a" stroke-width="0.85"/>
<circle cx="86.41" cy="275.8" r="1.3" fill="none" stroke="#1a1a1a" stroke-width="0.85"/>
<circle cx="86.41" cy="283.8" r="1.3" fill="none" stroke="#1a1a1a" stroke-width="0.85"/>
<circle cx="86.41" cy="288.3" r="1.3" fill="none" stroke="#1a1a1a" stroke-width="0.85"/>
<circle cx="86.41" cy="296" r="1.3" fill="none" stroke="#1a1a1a" stroke-width="0.85"/>
<text transform="translate(86.41,367.8) scale(1.08,1)" font-size="5.3" fill="#222" text-anchor="middle" font-family="'Liberation Sans', sans-serif">132</text>
<g transform="translate(84.21,229) rotate(-45)"><text x="0" y="0" font-size="8.2" transform="scale(1.05,1)" fill="#111" stroke="#111" stroke-width="0.2" font-family="'Liberation Sans', sans-serif">PBSC</text><circle cx="24.65" cy="-4.6" r="0.95" fill="#111"/></g>
<rect x="102.77" y="323.7" width="9.7" height="35.4" fill="#a8002c" stroke="#b3123c" stroke-width="0.7"/>
<line x1="107.62" y1="323.4" x2="107.62" y2="271" stroke="#222" stroke-width="1" stroke-dasharray="3.2,2.3" stroke-dashoffset="2.4"/>
<line x1="104.62" y1="271" x2="110.62" y2="271" stroke="#222" stroke-width="1.15"/>
<line x1="104.62" y1="359.4" x2="110.62" y2="359.4" stroke="#222" stroke-width="1.15"/>
<line x1="102.77" y1="338.8" x2="112.47" y2="338.8" stroke="#111" stroke-width="1.3"/>
<circle cx="107.62" cy="253.3" r="1.3" fill="none" stroke="#1a1a1a" stroke-width="0.85"/>
<text transform="translate(107.62,367.8) scale(1.08,1)" font-size="5.3" fill="#222" text-anchor="middle" font-family="'Liberation Sans', sans-serif">203</text>
<g transform="translate(106.42,229) rotate(-45)"><text x="0" y="0" font-size="8.2" transform="scale(1.05,1)" fill="#111" stroke="#111" stroke-width="0.2" font-family="'Liberation Sans', sans-serif">UCB</text></g>
<rect x="123.98" y="332.2" width="9.7" height="26.9" fill="#2f5092" stroke="#1d3572" stroke-width="0.7"/>
<line x1="128.83" y1="331.9" x2="128.83" y2="293.8" stroke="#222" stroke-width="1" stroke-dasharray="3.2,2.3" stroke-dashoffset="2.4"/>
<line x1="125.83" y1="293.8" x2="131.83" y2="293.8" stroke="#222" stroke-width="1.15"/>
<line x1="125.83" y1="359.4" x2="131.83" y2="359.4" stroke="#222" stroke-width="1.15"/>
<line x1="123.98" y1="351.3" x2="133.68" y2="351.3" stroke="#111" stroke-width="1.3"/>
<circle cx="128.83" cy="272.7" r="1.3" fill="none" stroke="#1a1a1a" stroke-width="0.85"/>
<circle cx="128.83" cy="277.5" r="1.3" fill="none" stroke="#1a1a1a" stroke-width="0.85"/>
<circle cx="128.83" cy="286.3" r="1.3" fill="none" stroke="#1a1a1a" stroke-width="0.85"/>
<text transform="translate(128.83,367.8) scale(1.08,1)" font-size="5.3" fill="#222" text-anchor="middle" font-family="'Liberation Sans', sans-serif">76</text>
<g transform="translate(127.73,229) rotate(-45)"><text x="0" y="0" font-size="8.2" transform="scale(1.05,1)" fill="#111" stroke="#111" stroke-width="0.2" font-family="'Liberation Sans', sans-serif">BM</text></g>
<rect x="145.19" y="342.3" width="9.7" height="16.8" fill="#e0911a" stroke="#eea426" stroke-width="0.7"/>
<line x1="150.04" y1="342" x2="150.04" y2="315.1" stroke="#222" stroke-width="1" stroke-dasharray="3.2,2.3" stroke-dashoffset="2.4"/>
<line x1="147.04" y1="315.1" x2="153.04" y2="315.1" stroke="#222" stroke-width="1.15"/>
<line x1="147.04" y1="359.4" x2="153.04" y2="359.4" stroke="#222" stroke-width="1.15"/>
<line x1="145.19" y1="354.3" x2="154.89" y2="354.3" stroke="#111" stroke-width="1.3"/>
<circle cx="150.04" cy="239.3" r="1.3" fill="none" stroke="#1a1a1a" stroke-width="0.85"/>
<circle cx="150.04" cy="245" r="1.3" fill="none" stroke="#1a1a1a" stroke-width="0.85"/>
<circle cx="150.04" cy="254.7" r="1.3" fill="none" stroke="#1a1a1a" stroke-width="0.85"/>
<circle cx="150.04" cy="263" r="1.3" fill="none" stroke="#1a1a1a" stroke-width="0.85"/>
<circle cx="150.04" cy="266" r="1.3" fill="none" stroke="#1a1a1a" stroke-width="0.85"/>
<circle cx="150.04" cy="275" r="1.3" fill="none" stroke="#1a1a1a" stroke-width="0.85"/>
<circle cx="150.04" cy="276" r="1.3" fill="none" stroke="#1a1a1a" stroke-width="0.85"/>
<circle cx="150.04" cy="285" r="1.3" fill="none" stroke="#1a1a1a" stroke-width="0.85"/>
<circle cx="150.04" cy="290.5" r="1.3" fill="none" stroke="#1a1a1a" stroke-width="0.85"/>
<circle cx="150.04" cy="293" r="1.3" fill="none" stroke="#1a1a1a" stroke-width="0.85"/>
<circle cx="150.04" cy="312.5" r="1.3" fill="none" stroke="#1a1a1a" stroke-width="0.85"/>
<circle cx="150.04" cy="311.3" r="1.3" fill="none" stroke="#1a1a1a" stroke-width="0.85"/>
<circle cx="150.04" cy="309.96" r="1.3" fill="none" stroke="#1a1a1a" stroke-width="0.85"/>
<circle cx="150.04" cy="308.45" r="1.3" fill="none" stroke="#1a1a1a" stroke-width="0.85"/>
<circle cx="150.04" cy="306.76" r="1.3" fill="none" stroke="#1a1a1a" stroke-width="0.85"/>
<circle cx="150.04" cy="304.88" r="1.3" fill="none" stroke="#1a1a1a" stroke-width="0.85"/>
<circle cx="150.04" cy="302.76" r="1.3" fill="none" stroke="#1a1a1a" stroke-width="0.85"/>
<circle cx="150.04" cy="300.56" r="1.3" fill="none" stroke="#1a1a1a" stroke-width="0.85"/>
<circle cx="150.04" cy="298.36" r="1.3" fill="none" stroke="#1a1a1a" stroke-width="0.85"/>
<circle cx="150.04" cy="296.16" r="1.3" fill="none" stroke="#1a1a1a" stroke-width="0.85"/>
<circle cx="150.04" cy="293.96" r="1.3" fill="none" stroke="#1a1a1a" stroke-width="0.85"/>
<circle cx="150.04" cy="291.76" r="1.3" fill="none" stroke="#1a1a1a" stroke-width="0.85"/>
<text transform="translate(150.04,367.8) scale(1.08,1)" font-size="5.3" fill="#222" text-anchor="middle" font-family="'Liberation Sans', sans-serif">50</text>
<g transform="translate(149.34,229) rotate(-45)"><text x="0" y="0" font-size="8.2" transform="scale(1.05,1)" fill="#111" stroke="#111" stroke-width="0.2" font-family="'Liberation Sans', sans-serif">PBSC</text></g>
<rect x="166.4" y="339.5" width="9.7" height="19.6" fill="#a8002c" stroke="#b3123c" stroke-width="0.7"/>
<line x1="171.25" y1="339.2" x2="171.25" y2="308.4" stroke="#222" stroke-width="1" stroke-dasharray="3.2,2.3" stroke-dashoffset="2.4"/>
<line x1="168.25" y1="308.4" x2="174.25" y2="308.4" stroke="#222" stroke-width="1.15"/>
<line x1="168.25" y1="359.4" x2="174.25" y2="359.4" stroke="#222" stroke-width="1.15"/>
<line x1="166.4" y1="356.2" x2="176.1" y2="356.2" stroke="#111" stroke-width="1.3"/>
<circle cx="171.25" cy="247.5" r="1.3" fill="none" stroke="#1a1a1a" stroke-width="0.85"/>
<circle cx="171.25" cy="252.5" r="1.3" fill="none" stroke="#1a1a1a" stroke-width="0.85"/>
<circle cx="171.25" cy="256.3" r="1.3" fill="none" stroke="#1a1a1a" stroke-width="0.85"/>
<circle cx="171.25" cy="263.5" r="1.3" fill="none" stroke="#1a1a1a" stroke-width="0.85"/>
<circle cx="171.25" cy="266" r="1.3" fill="none" stroke="#1a1a1a" stroke-width="0.85"/>
<circle cx="171.25" cy="268" r="1.3" fill="none" stroke="#1a1a1a" stroke-width="0.85"/>
<circle cx="171.25" cy="270" r="1.3" fill="none" stroke="#1a1a1a" stroke-width="0.85"/>
<circle cx="171.25" cy="271.9" r="1.3" fill="none" stroke="#1a1a1a" stroke-width="0.85"/>
<circle cx="171.25" cy="278" r="1.3" fill="none" stroke="#1a1a1a" stroke-width="0.85"/>
<circle cx="171.25" cy="280" r="1.3" fill="none" stroke="#1a1a1a" stroke-width="0.85"/>
<circle cx="171.25" cy="282" r="1.3" fill="none" stroke="#1a1a1a" stroke-width="0.85"/>
<circle cx="171.25" cy="284" r="1.3" fill="none" stroke="#1a1a1a" stroke-width="0.85"/>
<circle cx="171.25" cy="286" r="1.3" fill="none" stroke="#1a1a1a" stroke-width="0.85"/>
<circle cx="171.25" cy="288" r="1.3" fill="none" stroke="#1a1a1a" stroke-width="0.85"/>
<circle cx="171.25" cy="290" r="1.3" fill="none" stroke="#1a1a1a" stroke-width="0.85"/>
<circle cx="171.25" cy="294.3" r="1.3" fill="none" stroke="#1a1a1a" stroke-width="0.85"/>
<circle cx="171.25" cy="296.7" r="1.3" fill="none" stroke="#1a1a1a" stroke-width="0.85"/>
<circle cx="171.25" cy="299.9" r="1.3" fill="none" stroke="#1a1a1a" stroke-width="0.85"/>
<circle cx="171.25" cy="302.3" r="1.3" fill="none" stroke="#1a1a1a" stroke-width="0.85"/>
<circle cx="171.25" cy="303.5" r="1.3" fill="none" stroke="#1a1a1a" stroke-width="0.85"/>
<circle cx="171.25" cy="304.7" r="1.3" fill="none" stroke="#1a1a1a" stroke-width="0.85"/>
<circle cx="171.25" cy="305.9" r="1.3" fill="none" stroke="#1a1a1a" stroke-width="0.85"/>
<circle cx="171.25" cy="307.1" r="1.3" fill="none" stroke="#1a1a1a" stroke-width="0.85"/>
<text transform="translate(171.25,367.8) scale(1.08,1)" font-size="5.3" fill="#222" text-anchor="middle" font-family="'Liberation Sans', sans-serif">31</text>
<g transform="translate(171.7,229) rotate(-45)"><text x="0" y="0" font-size="8.2" transform="scale(1.05,1)" fill="#111" stroke="#111" stroke-width="0.2" font-family="'Liberation Sans', sans-serif">UCB</text></g>
<rect x="187.61" y="343.4" width="9.7" height="15.1" fill="#2f5092" stroke="#1d3572" stroke-width="0.7"/>
<line x1="192.46" y1="343.1" x2="192.46" y2="319.3" stroke="#222" stroke-width="1" stroke-dasharray="3.2,2.3" stroke-dashoffset="2.4"/>
<line x1="192.46" y1="358.8" x2="192.46" y2="359.4" stroke="#222" stroke-width="1" stroke-dasharray="3.2,2.3" stroke-dashoffset="2.4"/>
<line x1="189.46" y1="319.3" x2="195.46" y2="319.3" stroke="#222" stroke-width="1.15"/>
<line x1="189.46" y1="359.4" x2="195.46" y2="359.4" stroke="#222" stroke-width="1.15"/>
<line x1="187.61" y1="358.3" x2="197.31" y2="358.3" stroke="#111" stroke-width="1.3"/>
<circle cx="192.46" cy="238.3" r="1.3" fill="none" stroke="#1a1a1a" stroke-width="0.85"/>
<circle cx="192.46" cy="240" r="1.3" fill="none" stroke="#1a1a1a" stroke-width="0.85"/>
<circle cx="192.46" cy="246.3" r="1.3" fill="none" stroke="#1a1a1a" stroke-width="0.85"/>
<circle cx="192.46" cy="263" r="1.3" fill="none" stroke="#1a1a1a" stroke-width="0.85"/>
<circle cx="192.46" cy="270.2" r="1.3" fill="none" stroke="#1a1a1a" stroke-width="0.85"/>
<circle cx="192.46" cy="278.8" r="1.3" fill="none" stroke="#1a1a1a" stroke-width="0.85"/>
<circle cx="192.46" cy="294.2" r="1.3" fill="none" stroke="#1a1a1a" stroke-width="0.85"/>
<circle cx="192.46" cy="312.2" r="1.3" fill="none" stroke="#1a1a1a" stroke-width="0.85"/>
<circle cx="192.46" cy="314" r="1.3" fill="none" stroke="#1a1a1a" stroke-width="0.85"/>
<text transform="translate(192.46,367.8) scale(1.08,1)" font-size="5.3" fill="#222" text-anchor="middle" font-family="'Liberation Sans', sans-serif">16</text>
<g transform="translate(190.86,229) rotate(-45)"><text x="0" y="0" font-size="8.2" transform="scale(1.05,1)" fill="#111" stroke="#111" stroke-width="0.2" font-family="'Liberation Sans', sans-serif">BM</text></g>
<rect x="208.82" y="333.9" width="9.7" height="24.6" fill="#e0911a" stroke="#eea426" stroke-width="0.7"/>
<line x1="213.67" y1="333.6" x2="213.67" y2="293.8" stroke="#222" stroke-width="1" stroke-dasharray="3.2,2.3" stroke-dashoffset="2.4"/>
<line x1="213.67" y1="358.8" x2="213.67" y2="359.4" stroke="#222" stroke-width="1" stroke-dasharray="3.2,2.3" stroke-dashoffset="2.4"/>
<line x1="210.67" y1="293.8" x2="216.67" y2="293.8" stroke="#222" stroke-width="1.15"/>
<line x1="210.67" y1="359.4" x2="216.67" y2="359.4" stroke="#222" stroke-width="1.15"/>
<line x1="208.82" y1="355.3" x2="218.52" y2="355.3" stroke="#111" stroke-width="1.3"/>
<circle cx="213.67" cy="234.3" r="1.3" fill="none" stroke="#1a1a1a" stroke-width="0.85"/>
<circle cx="213.67" cy="238.3" r="1.3" fill="none" stroke="#1a1a1a" stroke-width="0.85"/>
<circle cx="213.67" cy="239.3" r="1.3" fill="none" stroke="#1a1a1a" stroke-width="0.85"/>
<circle cx="213.67" cy="244.3" r="1.3" fill="none" stroke="#1a1a1a" stroke-width="0.85"/>
<circle cx="213.67" cy="247.2" r="1.3" fill="none" stroke="#1a1a1a" stroke-width="0.85"/>
<circle cx="213.67" cy="250" r="1.3" fill="none" stroke="#1a1a1a" stroke-width="0.85"/>
<circle cx="213.67" cy="257.2" r="1.3" fill="none" stroke="#1a1a1a" stroke-width="0.85"/>
<circle cx="213.67" cy="259.7" r="1.3" fill="none" stroke="#1a1a1a" stroke-width="0.85"/>
<circle cx="213.67" cy="263.8" r="1.3" fill="none" stroke="#1a1a1a" stroke-width="0.85"/>
<circle cx="213.67" cy="264.8" r="1.3" fill="none" stroke="#1a1a1a" stroke-width="0.85"/>
<circle cx="213.67" cy="272.7" r="1.3" fill="none" stroke="#1a1a1a" stroke-width="0.85"/>
<circle cx="213.67" cy="288" r="1.3" fill="none" stroke="#1a1a1a" stroke-width="0.85"/>
<circle cx="213.67" cy="286.7" r="1.3" fill="none" stroke="#1a1a1a" stroke-width="0.85"/>
<circle cx="213.67" cy="285.24" r="1.3" fill="none" stroke="#1a1a1a" stroke-width="0.85"/>
<circle cx="213.67" cy="283.61" r="1.3" fill="none" stroke="#1a1a1a" stroke-width="0.85"/>
<circle cx="213.67" cy="281.79" r="1.3" fill="none" stroke="#1a1a1a" stroke-width="0.85"/>
<circle cx="213.67" cy="279.74" r="1.3" fill="none" stroke="#1a1a1a" stroke-width="0.85"/>
<circle cx="213.67" cy="277.64" r="1.3" fill="none" stroke="#1a1a1a" stroke-width="0.85"/>
<circle cx="213.67" cy="292.2" r="1.3" fill="none" stroke="#1a1a1a" stroke-width="0.85"/>
<text transform="translate(213.67,367.8) scale(1.08,1)" font-size="5.3" fill="#222" text-anchor="middle" font-family="'Liberation Sans', sans-serif">38</text>
<g transform="translate(212.07,229) rotate(-45)"><text x="0" y="0" font-size="8.2" transform="scale(1.05,1)" fill="#111" stroke="#111" stroke-width="0.2" font-family="'Liberation Sans', sans-serif">PBSC</text></g>
<rect x="230.03" y="349.4" width="9.7" height="9.1" fill="#a8002c" stroke="#b3123c" stroke-width="0.7"/>
<line x1="234.88" y1="349.1" x2="234.88" y2="334.7" stroke="#222" stroke-width="1" stroke-dasharray="3.2,2.3" stroke-dashoffset="2.4"/>
<line x1="234.88" y1="358.8" x2="234.88" y2="359.4" stroke="#222" stroke-width="1" stroke-dasharray="3.2,2.3" stroke-dashoffset="2.4"/>
<line x1="231.88" y1="334.7" x2="237.88" y2="334.7" stroke="#222" stroke-width="1.15"/>
<line x1="231.88" y1="359.4" x2="237.88" y2="359.4" stroke="#222" stroke-width="1.15"/>
<line x1="230.03" y1="358.3" x2="239.73" y2="358.3" stroke="#111" stroke-width="1.3"/>
<circle cx="234.88" cy="236" r="1.3" fill="none" stroke="#1a1a1a" stroke-width="0.85"/>
<circle cx="234.88" cy="239.3" r="1.3" fill="none" stroke="#1a1a1a" stroke-width="0.85"/>
<circle cx="234.88" cy="246" r="1.3" fill="none" stroke="#1a1a1a" stroke-width="0.85"/>
<circle cx="234.88" cy="246.8" r="1.3" fill="none" stroke="#1a1a1a" stroke-width="0.85"/>
<circle cx="234.88" cy="253.3" r="1.3" fill="none" stroke="#1a1a1a" stroke-width="0.85"/>
<circle cx="234.88" cy="268" r="1.3" fill="none" stroke="#1a1a1a" stroke-width="0.85"/>
<circle cx="234.88" cy="274.3" r="1.3" fill="none" stroke="#1a1a1a" stroke-width="0.85"/>
<circle cx="234.88" cy="280.5" r="1.3" fill="none" stroke="#1a1a1a" stroke-width="0.85"/>
<circle cx="234.88" cy="283" r="1.3" fill="none" stroke="#1a1a1a" stroke-width="0.85"/>
<circle cx="234.88" cy="287.2" r="1.3" fill="none" stroke="#1a1a1a" stroke-width="0.85"/>
<circle cx="234.88" cy="293.5" r="1.3" fill="none" stroke="#1a1a1a" stroke-width="0.85"/>
<circle cx="234.88" cy="294.3" r="1.3" fill="none" stroke="#1a1a1a" stroke-width="0.85"/>
<circle cx="234.88" cy="299.7" r="1.3" fill="none" stroke="#1a1a1a" stroke-width="0.85"/>
<circle cx="234.88" cy="303.4" r="1.3" fill="none" stroke="#1a1a1a" stroke-width="0.85"/>
<circle cx="234.88" cy="309" r="1.3" fill="none" stroke="#1a1a1a" stroke-width="0.85"/>
<circle cx="234.88" cy="312.7" r="1.3" fill="none" stroke="#1a1a1a" stroke-width="0.85"/>
<circle cx="234.88" cy="326.7" r="1.3" fill="none" stroke="#1a1a1a" stroke-width="0.85"/>
<circle cx="234.88" cy="325.7" r="1.3" fill="none" stroke="#1a1a1a" stroke-width="0.85"/>
<circle cx="234.88" cy="324.58" r="1.3" fill="none" stroke="#1a1a1a" stroke-width="0.85"/>
<circle cx="234.88" cy="323.33" r="1.3" fill="none" stroke="#1a1a1a" stroke-width="0.85"/>
<circle cx="234.88" cy="321.92" r="1.3" fill="none" stroke="#1a1a1a" stroke-width="0.85"/>
<circle cx="234.88" cy="320.35" r="1.3" fill="none" stroke="#1a1a1a" stroke-width="0.85"/>
<circle cx="234.88" cy="318.75" r="1.3" fill="none" stroke="#1a1a1a" stroke-width="0.85"/>
<circle cx="234.88" cy="317.15" r="1.3" fill="none" stroke="#1a1a1a" stroke-width="0.85"/>
<circle cx="234.88" cy="332.3" r="1.3" fill="none" stroke="#1a1a1a" stroke-width="0.85"/>
<text transform="translate(234.88,367.8) scale(1.08,1)" font-size="5.3" fill="#222" text-anchor="middle" font-family="'Liberation Sans', sans-serif">14</text>
<g transform="translate(234.98,229) rotate(-45)"><text x="0" y="0" font-size="8.2" transform="scale(1.05,1)" fill="#111" stroke="#111" stroke-width="0.2" font-family="'Liberation Sans', sans-serif">UCB</text></g>
<rect x="47" y="232.5" width="205.9" height="136.8" fill="none" stroke="#222" stroke-width="1.3"/>
<line x1="118" y1="232.5" x2="118" y2="369.3" stroke="#222" stroke-width="1.3"/>
<line x1="181.8" y1="232.5" x2="181.8" y2="369.3" stroke="#222" stroke-width="1.3"/>
<line x1="44" y1="359.5" x2="47" y2="359.5" stroke="#222" stroke-width="1"/>
<text transform="translate(40.7,361.95) scale(1.04,1)" font-size="8.4" fill="#222" text-anchor="end" font-family="'Liberation Sans', sans-serif">0</text>
<line x1="44" y1="339.28" x2="47" y2="339.28" stroke="#222" stroke-width="1"/>
<text transform="translate(40.7,341.73) scale(1.04,1)" font-size="8.4" fill="#222" text-anchor="end" font-family="'Liberation Sans', sans-serif">200</text>
<line x1="44" y1="319.06" x2="47" y2="319.06" stroke="#222" stroke-width="1"/>
<text transform="translate(40.7,321.51) scale(1.04,1)" font-size="8.4" fill="#222" text-anchor="end" font-family="'Liberation Sans', sans-serif">400</text>
<line x1="44" y1="298.84" x2="47" y2="298.84" stroke="#222" stroke-width="1"/>
<text transform="translate(40.7,301.29) scale(1.04,1)" font-size="8.4" fill="#222" text-anchor="end" font-family="'Liberation Sans', sans-serif">600</text>
<line x1="44" y1="278.62" x2="47" y2="278.62" stroke="#222" stroke-width="1"/>
<text transform="translate(40.7,281.07) scale(1.04,1)" font-size="8.4" fill="#222" text-anchor="end" font-family="'Liberation Sans', sans-serif">800</text>
<line x1="44" y1="258.4" x2="47" y2="258.4" stroke="#222" stroke-width="1"/>
<text transform="translate(40.7,260.85) scale(1.04,1)" font-size="8.4" fill="#222" text-anchor="end" font-family="'Liberation Sans', sans-serif">1000</text>
<line x1="44" y1="238.18" x2="47" y2="238.18" stroke="#222" stroke-width="1"/>
<text x="81.2" y="380.2" font-size="8.2" fill="#000" text-anchor="middle" font-family="'Liberation Sans', sans-serif">Day 0-100</text>
<text x="150.2" y="380.2" font-size="8.2" fill="#000" text-anchor="middle" font-family="'Liberation Sans', sans-serif">Day 101-365</text>
<text x="213.5" y="380.2" font-size="8.2" fill="#000" text-anchor="middle" font-family="'Liberation Sans', sans-serif">Year 1-5</text>
<text transform="translate(150.1,393.6) scale(0.59,1)" font-size="10.8" fill="#111" stroke="#111" stroke-width="0.2" text-anchor="middle" font-family="'Liberation Sans', sans-serif">Period</text>
<text transform="translate(15.8,301) rotate(-90) scale(0.629,1)" font-size="10.8" fill="#111" stroke="#111" stroke-width="0.2" text-anchor="middle" font-family="'Liberation Sans', sans-serif">Medications</text>
<text x="262.6" y="216.6" font-size="12.6" font-weight="bold" stroke="#000" stroke-width="0.35" font-family="'Liberation Sans', sans-serif">D</text>
<rect x="320.35" y="319.2" width="9.7" height="18" fill="#2f5092" stroke="#1d3572" stroke-width="0.7"/>
<line x1="325.2" y1="318.9" x2="325.2" y2="295" stroke="#222" stroke-width="1" stroke-dasharray="3.2,2.3" stroke-dashoffset="2.4"/>
<line x1="325.2" y1="337.5" x2="325.2" y2="360.7" stroke="#222" stroke-width="1" stroke-dasharray="3.2,2.3" stroke-dashoffset="2.4"/>
<line x1="322.2" y1="295" x2="328.2" y2="295" stroke="#222" stroke-width="1.15"/>
<line x1="322.2" y1="360.7" x2="328.2" y2="360.7" stroke="#222" stroke-width="1.15"/>
<line x1="320.35" y1="331.4" x2="330.05" y2="331.4" stroke="#111" stroke-width="1.3"/>
<circle cx="325.2" cy="270.5" r="1.3" fill="none" stroke="#1a1a1a" stroke-width="0.85"/>
<circle cx="325.2" cy="272.7" r="1.3" fill="none" stroke="#1a1a1a" stroke-width="0.85"/>
<circle cx="325.2" cy="274.7" r="1.3" fill="none" stroke="#1a1a1a" stroke-width="0.85"/>
<circle cx="325.2" cy="276.7" r="1.3" fill="none" stroke="#1a1a1a" stroke-width="0.85"/>
<circle cx="325.2" cy="283.8" r="1.3" fill="none" stroke="#1a1a1a" stroke-width="0.85"/>
<text transform="translate(325.2,367.8) scale(1.08,1)" font-size="5.3" fill="#222" text-anchor="middle" font-family="'Liberation Sans', sans-serif">481</text>
<g transform="translate(323.6,229) rotate(-45)"><text x="0" y="0" font-size="8.2" transform="scale(1.05,1)" fill="#111" stroke="#111" stroke-width="0.2" font-family="'Liberation Sans', sans-serif">BM</text></g>
<rect x="341.56" y="326.6" width="9.7" height="16.2" fill="#e0911a" stroke="#eea426" stroke-width="0.7"/>
<line x1="346.41" y1="326.3" x2="346.41" y2="301.5" stroke="#222" stroke-width="1" stroke-dasharray="3.2,2.3" stroke-dashoffset="2.4"/>
<line x1="346.41" y1="343.1" x2="346.41" y2="360.7" stroke="#222" stroke-width="1" stroke-dasharray="3.2,2.3" stroke-dashoffset="2.4"/>
<line x1="343.41" y1="301.5" x2="349.41" y2="301.5" stroke="#222" stroke-width="1.15"/>
<line x1="343.41" y1="360.7" x2="349.41" y2="360.7" stroke="#222" stroke-width="1.15"/>
<line x1="341.56" y1="335.1" x2="351.26" y2="335.1" stroke="#111" stroke-width="1.3"/>
<circle cx="346.41" cy="244.7" r="1.3" fill="none" stroke="#1a1a1a" stroke-width="0.85"/>
<circle cx="346.41" cy="250.5" r="1.3" fill="none" stroke="#1a1a1a" stroke-width="0.85"/>
<circle cx="346.41" cy="260" r="1.3" fill="none" stroke="#1a1a1a" stroke-width="0.85"/>
<circle cx="346.41" cy="263.3" r="1.3" fill="none" stroke="#1a1a1a" stroke-width="0.85"/>
<circle cx="346.41" cy="269.3" r="1.3" fill="none" stroke="#1a1a1a" stroke-width="0.85"/>
<circle cx="346.41" cy="273.3" r="1.3" fill="none" stroke="#1a1a1a" stroke-width="0.85"/>
<circle cx="346.41" cy="281" r="1.3" fill="none" stroke="#1a1a1a" stroke-width="0.85"/>
<circle cx="346.41" cy="300.6" r="1.3" fill="none" stroke="#1a1a1a" stroke-width="0.85"/>
<circle cx="346.41" cy="299.5" r="1.3" fill="none" stroke="#1a1a1a" stroke-width="0.85"/>
<circle cx="346.41" cy="298.27" r="1.3" fill="none" stroke="#1a1a1a" stroke-width="0.85"/>
<circle cx="346.41" cy="296.89" r="1.3" fill="none" stroke="#1a1a1a" stroke-width="0.85"/>
<circle cx="346.41" cy="295.34" r="1.3" fill="none" stroke="#1a1a1a" stroke-width="0.85"/>
<circle cx="346.41" cy="293.61" r="1.3" fill="none" stroke="#1a1a1a" stroke-width="0.85"/>
<circle cx="346.41" cy="291.67" r="1.3" fill="none" stroke="#1a1a1a" stroke-width="0.85"/>
<circle cx="346.41" cy="289.67" r="1.3" fill="none" stroke="#1a1a1a" stroke-width="0.85"/>
<circle cx="346.41" cy="287.67" r="1.3" fill="none" stroke="#1a1a1a" stroke-width="0.85"/>
<text transform="translate(346.41,367.8) scale(1.08,1)" font-size="5.3" fill="#222" text-anchor="middle" font-family="'Liberation Sans', sans-serif">423</text>
<g transform="translate(344.21,229) rotate(-45)"><text x="0" y="0" font-size="8.2" transform="scale(1.05,1)" fill="#111" stroke="#111" stroke-width="0.2" font-family="'Liberation Sans', sans-serif">PBSC</text><circle cx="24.65" cy="-4.6" r="0.95" fill="#111"/></g>
<rect x="362.77" y="319.2" width="9.7" height="23.6" fill="#a8002c" stroke="#b3123c" stroke-width="0.7"/>
<line x1="367.62" y1="318.9" x2="367.62" y2="283" stroke="#222" stroke-width="1" stroke-dasharray="3.2,2.3" stroke-dashoffset="2.4"/>
<line x1="367.62" y1="343.1" x2="367.62" y2="360.7" stroke="#222" stroke-width="1" stroke-dasharray="3.2,2.3" stroke-dashoffset="2.4"/>
<line x1="364.62" y1="283" x2="370.62" y2="283" stroke="#222" stroke-width="1.15"/>
<line x1="364.62" y1="360.7" x2="370.62" y2="360.7" stroke="#222" stroke-width="1.15"/>
<line x1="362.77" y1="332.7" x2="372.47" y2="332.7" stroke="#111" stroke-width="1.3"/>
<circle cx="367.62" cy="242.2" r="1.3" fill="none" stroke="#1a1a1a" stroke-width="0.85"/>
<circle cx="367.62" cy="245.5" r="1.3" fill="none" stroke="#1a1a1a" stroke-width="0.85"/>
<circle cx="367.62" cy="248.3" r="1.3" fill="none" stroke="#1a1a1a" stroke-width="0.85"/>
<circle cx="367.62" cy="251" r="1.3" fill="none" stroke="#1a1a1a" stroke-width="0.85"/>
<circle cx="367.62" cy="275.5" r="1.3" fill="none" stroke="#1a1a1a" stroke-width="0.85"/>
<circle cx="367.62" cy="274.4" r="1.3" fill="none" stroke="#1a1a1a" stroke-width="0.85"/>
<circle cx="367.62" cy="273.17" r="1.3" fill="none" stroke="#1a1a1a" stroke-width="0.85"/>
<circle cx="367.62" cy="271.79" r="1.3" fill="none" stroke="#1a1a1a" stroke-width="0.85"/>
<circle cx="367.62" cy="270.24" r="1.3" fill="none" stroke="#1a1a1a" stroke-width="0.85"/>
<circle cx="367.62" cy="268.51" r="1.3" fill="none" stroke="#1a1a1a" stroke-width="0.85"/>
<circle cx="367.62" cy="266.57" r="1.3" fill="none" stroke="#1a1a1a" stroke-width="0.85"/>
<circle cx="367.62" cy="264.47" r="1.3" fill="none" stroke="#1a1a1a" stroke-width="0.85"/>
<circle cx="367.62" cy="262.37" r="1.3" fill="none" stroke="#1a1a1a" stroke-width="0.85"/>
<circle cx="367.62" cy="260.27" r="1.3" fill="none" stroke="#1a1a1a" stroke-width="0.85"/>
<circle cx="367.62" cy="258.17" r="1.3" fill="none" stroke="#1a1a1a" stroke-width="0.85"/>
<circle cx="367.62" cy="281.3" r="1.3" fill="none" stroke="#1a1a1a" stroke-width="0.85"/>
<text transform="translate(367.62,367.8) scale(1.08,1)" font-size="5.3" fill="#222" text-anchor="middle" font-family="'Liberation Sans', sans-serif">487</text>
<g transform="translate(366.42,229) rotate(-45)"><text x="0" y="0" font-size="8.2" transform="scale(1.05,1)" fill="#111" stroke="#111" stroke-width="0.2" font-family="'Liberation Sans', sans-serif">UCB</text></g>
<rect x="383.98" y="326.1" width="9.7" height="31.7" fill="#2f5092" stroke="#1d3572" stroke-width="0.7"/>
<line x1="388.83" y1="325.8" x2="388.83" y2="287.2" stroke="#222" stroke-width="1" stroke-dasharray="3.2,2.3" stroke-dashoffset="2.4"/>
<line x1="388.83" y1="358.1" x2="388.83" y2="360.7" stroke="#222" stroke-width="1" stroke-dasharray="3.2,2.3" stroke-dashoffset="2.4"/>
<line x1="385.83" y1="287.2" x2="391.83" y2="287.2" stroke="#222" stroke-width="1.15"/>
<line x1="385.83" y1="360.7" x2="391.83" y2="360.7" stroke="#222" stroke-width="1.15"/>
<line x1="383.98" y1="342.6" x2="393.68" y2="342.6" stroke="#111" stroke-width="1.3"/>
<circle cx="388.83" cy="240.5" r="1.3" fill="none" stroke="#1a1a1a" stroke-width="0.85"/>
<circle cx="388.83" cy="245" r="1.3" fill="none" stroke="#1a1a1a" stroke-width="0.85"/>
<circle cx="388.83" cy="251.7" r="1.3" fill="none" stroke="#1a1a1a" stroke-width="0.85"/>
<circle cx="388.83" cy="260.2" r="1.3" fill="none" stroke="#1a1a1a" stroke-width="0.85"/>
<circle cx="388.83" cy="272.2" r="1.3" fill="none" stroke="#1a1a1a" stroke-width="0.85"/>
<circle cx="388.83" cy="274.7" r="1.3" fill="none" stroke="#1a1a1a" stroke-width="0.85"/>
<circle cx="388.83" cy="276.7" r="1.3" fill="none" stroke="#1a1a1a" stroke-width="0.85"/>
<text transform="translate(388.83,367.8) scale(1.08,1)" font-size="5.3" fill="#222" text-anchor="middle" font-family="'Liberation Sans', sans-serif">301</text>
<g transform="translate(387.73,229) rotate(-45)"><text x="0" y="0" font-size="8.2" transform="scale(1.05,1)" fill="#111" stroke="#111" stroke-width="0.2" font-family="'Liberation Sans', sans-serif">BM</text></g>
<rect x="405.19" y="332.2" width="9.7" height="28.2" fill="#e0911a" stroke="#eea426" stroke-width="0.7"/>
<line x1="410.04" y1="331.9" x2="410.04" y2="290" stroke="#222" stroke-width="1" stroke-dasharray="3.2,2.3" stroke-dashoffset="2.4"/>
<line x1="407.04" y1="290" x2="413.04" y2="290" stroke="#222" stroke-width="1.15"/>
<line x1="407.04" y1="360.9" x2="413.04" y2="360.9" stroke="#222" stroke-width="1.15"/>
<line x1="405.19" y1="348.5" x2="414.89" y2="348.5" stroke="#111" stroke-width="1.3"/>
<circle cx="410.04" cy="245" r="1.3" fill="none" stroke="#1a1a1a" stroke-width="0.85"/>
<circle cx="410.04" cy="250" r="1.3" fill="none" stroke="#1a1a1a" stroke-width="0.85"/>
<circle cx="410.04" cy="252.2" r="1.3" fill="none" stroke="#1a1a1a" stroke-width="0.85"/>
<circle cx="410.04" cy="259.7" r="1.3" fill="none" stroke="#1a1a1a" stroke-width="0.85"/>
<circle cx="410.04" cy="261.7" r="1.3" fill="none" stroke="#1a1a1a" stroke-width="0.85"/>
<circle cx="410.04" cy="263.8" r="1.3" fill="none" stroke="#1a1a1a" stroke-width="0.85"/>
<circle cx="410.04" cy="271.3" r="1.3" fill="none" stroke="#1a1a1a" stroke-width="0.85"/>
<circle cx="410.04" cy="274.7" r="1.3" fill="none" stroke="#1a1a1a" stroke-width="0.85"/>
<circle cx="410.04" cy="277.2" r="1.3" fill="none" stroke="#1a1a1a" stroke-width="0.85"/>
<circle cx="410.04" cy="279.7" r="1.3" fill="none" stroke="#1a1a1a" stroke-width="0.85"/>
<circle cx="410.04" cy="285.8" r="1.3" fill="none" stroke="#1a1a1a" stroke-width="0.85"/>
<circle cx="410.04" cy="286.8" r="1.3" fill="none" stroke="#1a1a1a" stroke-width="0.85"/>
<text transform="translate(410.04,367.8) scale(1.08,1)" font-size="5.3" fill="#222" text-anchor="middle" font-family="'Liberation Sans', sans-serif">214</text>
<g transform="translate(409.34,229) rotate(-45)"><text x="0" y="0" font-size="8.2" transform="scale(1.05,1)" fill="#111" stroke="#111" stroke-width="0.2" font-family="'Liberation Sans', sans-serif">PBSC</text></g>
<rect x="426.4" y="332.6" width="9.7" height="27.8" fill="#a8002c" stroke="#b3123c" stroke-width="0.7"/>
<line x1="431.25" y1="332.3" x2="431.25" y2="290.5" stroke="#222" stroke-width="1" stroke-dasharray="3.2,2.3" stroke-dashoffset="2.4"/>
<line x1="428.25" y1="290.5" x2="434.25" y2="290.5" stroke="#222" stroke-width="1.15"/>
<line x1="428.25" y1="360.9" x2="434.25" y2="360.9" stroke="#222" stroke-width="1.15"/>
<line x1="426.4" y1="350.4" x2="436.1" y2="350.4" stroke="#111" stroke-width="1.3"/>
<circle cx="431.25" cy="236.3" r="1.3" fill="none" stroke="#1a1a1a" stroke-width="0.85"/>
<circle cx="431.25" cy="241.7" r="1.3" fill="none" stroke="#1a1a1a" stroke-width="0.85"/>
<circle cx="431.25" cy="244.2" r="1.3" fill="none" stroke="#1a1a1a" stroke-width="0.85"/>
<circle cx="431.25" cy="246.7" r="1.3" fill="none" stroke="#1a1a1a" stroke-width="0.85"/>
<circle cx="431.25" cy="249.2" r="1.3" fill="none" stroke="#1a1a1a" stroke-width="0.85"/>
<circle cx="431.25" cy="251.7" r="1.3" fill="none" stroke="#1a1a1a" stroke-width="0.85"/>
<circle cx="431.25" cy="254.2" r="1.3" fill="none" stroke="#1a1a1a" stroke-width="0.85"/>
<circle cx="431.25" cy="256.7" r="1.3" fill="none" stroke="#1a1a1a" stroke-width="0.85"/>
<circle cx="431.25" cy="259.2" r="1.3" fill="none" stroke="#1a1a1a" stroke-width="0.85"/>
<circle cx="431.25" cy="261.7" r="1.3" fill="none" stroke="#1a1a1a" stroke-width="0.85"/>
<circle cx="431.25" cy="264.2" r="1.3" fill="none" stroke="#1a1a1a" stroke-width="0.85"/>
<circle cx="431.25" cy="266.7" r="1.3" fill="none" stroke="#1a1a1a" stroke-width="0.85"/>
<circle cx="431.25" cy="269.2" r="1.3" fill="none" stroke="#1a1a1a" stroke-width="0.85"/>
<circle cx="431.25" cy="271.7" r="1.3" fill="none" stroke="#1a1a1a" stroke-width="0.85"/>
<circle cx="431.25" cy="274.2" r="1.3" fill="none" stroke="#1a1a1a" stroke-width="0.85"/>
<circle cx="431.25" cy="276.7" r="1.3" fill="none" stroke="#1a1a1a" stroke-width="0.85"/>
<circle cx="431.25" cy="279.2" r="1.3" fill="none" stroke="#1a1a1a" stroke-width="0.85"/>
<circle cx="431.25" cy="281.7" r="1.3" fill="none" stroke="#1a1a1a" stroke-width="0.85"/>
<circle cx="431.25" cy="284.2" r="1.3" fill="none" stroke="#1a1a1a" stroke-width="0.85"/>
<circle cx="431.25" cy="286.7" r="1.3" fill="none" stroke="#1a1a1a" stroke-width="0.85"/>
<text transform="translate(431.25,367.8) scale(1.08,1)" font-size="5.3" fill="#222" text-anchor="middle" font-family="'Liberation Sans', sans-serif">174</text>
<g transform="translate(431.7,229) rotate(-45)"><text x="0" y="0" font-size="8.2" transform="scale(1.05,1)" fill="#111" stroke="#111" stroke-width="0.2" font-family="'Liberation Sans', sans-serif">UCB</text><circle cx="19.38" cy="-4.6" r="0.95" fill="#111"/></g>
<rect x="447.61" y="332.2" width="9.7" height="28.7" fill="#2f5092" stroke="#1d3572" stroke-width="0.7"/>
<line x1="452.46" y1="331.9" x2="452.46" y2="308.4" stroke="#222" stroke-width="1" stroke-dasharray="3.2,2.3" stroke-dashoffset="2.4"/>
<line x1="449.46" y1="308.4" x2="455.46" y2="308.4" stroke="#222" stroke-width="1.15"/>
<line x1="449.46" y1="361.2" x2="455.46" y2="361.2" stroke="#222" stroke-width="1.15"/>
<line x1="447.61" y1="358.8" x2="457.31" y2="358.8" stroke="#111" stroke-width="1.3"/>
<circle cx="452.46" cy="258.3" r="1.3" fill="none" stroke="#1a1a1a" stroke-width="0.85"/>
<circle cx="452.46" cy="272.5" r="1.3" fill="none" stroke="#1a1a1a" stroke-width="0.85"/>
<circle cx="452.46" cy="288.3" r="1.3" fill="none" stroke="#1a1a1a" stroke-width="0.85"/>
<text transform="translate(452.46,367.8) scale(1.08,1)" font-size="5.3" fill="#222" text-anchor="middle" font-family="'Liberation Sans', sans-serif">41</text>
<g transform="translate(450.86,229) rotate(-45)"><text x="0" y="0" font-size="8.2" transform="scale(1.05,1)" fill="#111" stroke="#111" stroke-width="0.2" font-family="'Liberation Sans', sans-serif">BM</text></g>
<rect x="468.82" y="330.2" width="9.7" height="30.2" fill="#e0911a" stroke="#eea426" stroke-width="0.7"/>
<line x1="473.67" y1="329.9" x2="473.67" y2="282.5" stroke="#222" stroke-width="1" stroke-dasharray="3.2,2.3" stroke-dashoffset="2.4"/>
<line x1="470.67" y1="282.5" x2="476.67" y2="282.5" stroke="#222" stroke-width="1.15"/>
<line x1="470.67" y1="360.9" x2="476.67" y2="360.9" stroke="#222" stroke-width="1.15"/>
<line x1="468.82" y1="356.2" x2="478.52" y2="356.2" stroke="#111" stroke-width="1.3"/>
<circle cx="473.67" cy="238" r="1.3" fill="none" stroke="#1a1a1a" stroke-width="0.85"/>
<circle cx="473.67" cy="239.95" r="1.3" fill="none" stroke="#1a1a1a" stroke-width="0.85"/>
<circle cx="473.67" cy="241.9" r="1.3" fill="none" stroke="#1a1a1a" stroke-width="0.85"/>
<circle cx="473.67" cy="243.85" r="1.3" fill="none" stroke="#1a1a1a" stroke-width="0.85"/>
<circle cx="473.67" cy="245.8" r="1.3" fill="none" stroke="#1a1a1a" stroke-width="0.85"/>
<circle cx="473.67" cy="247.75" r="1.3" fill="none" stroke="#1a1a1a" stroke-width="0.85"/>
<circle cx="473.67" cy="249.7" r="1.3" fill="none" stroke="#1a1a1a" stroke-width="0.85"/>
<circle cx="473.67" cy="251.65" r="1.3" fill="none" stroke="#1a1a1a" stroke-width="0.85"/>
<circle cx="473.67" cy="258" r="1.3" fill="none" stroke="#1a1a1a" stroke-width="0.85"/>
<circle cx="473.67" cy="260.5" r="1.3" fill="none" stroke="#1a1a1a" stroke-width="0.85"/>
<circle cx="473.67" cy="263.8" r="1.3" fill="none" stroke="#1a1a1a" stroke-width="0.85"/>
<circle cx="473.67" cy="267.2" r="1.3" fill="none" stroke="#1a1a1a" stroke-width="0.85"/>
<circle cx="473.67" cy="272.2" r="1.3" fill="none" stroke="#1a1a1a" stroke-width="0.85"/>
<circle cx="473.67" cy="276.3" r="1.3" fill="none" stroke="#1a1a1a" stroke-width="0.85"/>
<circle cx="473.67" cy="279.7" r="1.3" fill="none" stroke="#1a1a1a" stroke-width="0.85"/>
<text transform="translate(473.67,367.8) scale(1.08,1)" font-size="5.3" fill="#222" text-anchor="middle" font-family="'Liberation Sans', sans-serif">86</text>
<g transform="translate(472.07,229) rotate(-45)"><text x="0" y="0" font-size="8.2" transform="scale(1.05,1)" fill="#111" stroke="#111" stroke-width="0.2" font-family="'Liberation Sans', sans-serif">PBSC</text></g>
<rect x="490.03" y="345.7" width="9.7" height="14.7" fill="#a8002c" stroke="#b3123c" stroke-width="0.7"/>
<line x1="494.88" y1="345.4" x2="494.88" y2="322.6" stroke="#222" stroke-width="1" stroke-dasharray="3.2,2.3" stroke-dashoffset="2.4"/>
<line x1="491.88" y1="322.6" x2="497.88" y2="322.6" stroke="#222" stroke-width="1.15"/>
<line x1="491.88" y1="360.9" x2="497.88" y2="360.9" stroke="#222" stroke-width="1.15"/>
<line x1="490.03" y1="359.4" x2="499.73" y2="359.4" stroke="#111" stroke-width="1.3"/>
<circle cx="494.88" cy="234.7" r="1.3" fill="none" stroke="#1a1a1a" stroke-width="0.85"/>
<circle cx="494.88" cy="244.3" r="1.3" fill="none" stroke="#1a1a1a" stroke-width="0.85"/>
<circle cx="494.88" cy="249.3" r="1.3" fill="none" stroke="#1a1a1a" stroke-width="0.85"/>
<circle cx="494.88" cy="258.3" r="1.3" fill="none" stroke="#1a1a1a" stroke-width="0.85"/>
<circle cx="494.88" cy="263.8" r="1.3" fill="none" stroke="#1a1a1a" stroke-width="0.85"/>
<circle cx="494.88" cy="270.5" r="1.3" fill="none" stroke="#1a1a1a" stroke-width="0.85"/>
<circle cx="494.88" cy="276.7" r="1.3" fill="none" stroke="#1a1a1a" stroke-width="0.85"/>
<circle cx="494.88" cy="278.65" r="1.3" fill="none" stroke="#1a1a1a" stroke-width="0.85"/>
<circle cx="494.88" cy="280.6" r="1.3" fill="none" stroke="#1a1a1a" stroke-width="0.85"/>
<circle cx="494.88" cy="282.55" r="1.3" fill="none" stroke="#1a1a1a" stroke-width="0.85"/>
<circle cx="494.88" cy="284.5" r="1.3" fill="none" stroke="#1a1a1a" stroke-width="0.85"/>
<circle cx="494.88" cy="291.3" r="1.3" fill="none" stroke="#1a1a1a" stroke-width="0.85"/>
<circle cx="494.88" cy="293.25" r="1.3" fill="none" stroke="#1a1a1a" stroke-width="0.85"/>
<circle cx="494.88" cy="295.2" r="1.3" fill="none" stroke="#1a1a1a" stroke-width="0.85"/>
<circle cx="494.88" cy="297.15" r="1.3" fill="none" stroke="#1a1a1a" stroke-width="0.85"/>
<circle cx="494.88" cy="299.1" r="1.3" fill="none" stroke="#1a1a1a" stroke-width="0.85"/>
<circle cx="494.88" cy="302.1" r="1.3" fill="none" stroke="#1a1a1a" stroke-width="0.85"/>
<circle cx="494.88" cy="307.1" r="1.3" fill="none" stroke="#1a1a1a" stroke-width="0.85"/>
<circle cx="494.88" cy="321.1" r="1.3" fill="none" stroke="#1a1a1a" stroke-width="0.85"/>
<circle cx="494.88" cy="320.1" r="1.3" fill="none" stroke="#1a1a1a" stroke-width="0.85"/>
<circle cx="494.88" cy="318.98" r="1.3" fill="none" stroke="#1a1a1a" stroke-width="0.85"/>
<circle cx="494.88" cy="317.73" r="1.3" fill="none" stroke="#1a1a1a" stroke-width="0.85"/>
<circle cx="494.88" cy="316.32" r="1.3" fill="none" stroke="#1a1a1a" stroke-width="0.85"/>
<circle cx="494.88" cy="314.75" r="1.3" fill="none" stroke="#1a1a1a" stroke-width="0.85"/>
<circle cx="494.88" cy="313.15" r="1.3" fill="none" stroke="#1a1a1a" stroke-width="0.85"/>
<circle cx="494.88" cy="311.55" r="1.3" fill="none" stroke="#1a1a1a" stroke-width="0.85"/>
<text transform="translate(494.88,367.8) scale(1.08,1)" font-size="5.3" fill="#222" text-anchor="middle" font-family="'Liberation Sans', sans-serif">30</text>
<g transform="translate(494.98,229) rotate(-45)"><text x="0" y="0" font-size="8.2" transform="scale(1.05,1)" fill="#111" stroke="#111" stroke-width="0.2" font-family="'Liberation Sans', sans-serif">UCB</text></g>
<rect x="307" y="232.5" width="205.5" height="136.8" fill="none" stroke="#222" stroke-width="1.3"/>
<line x1="378" y1="232.5" x2="378" y2="369.3" stroke="#222" stroke-width="1.3"/>
<line x1="441.8" y1="232.5" x2="441.8" y2="369.3" stroke="#222" stroke-width="1.3"/>
<line x1="304" y1="361.1" x2="307" y2="361.1" stroke="#222" stroke-width="1"/>
<text transform="translate(300.7,363.55) scale(1.04,1)" font-size="8.4" fill="#222" text-anchor="end" font-family="'Liberation Sans', sans-serif">0</text>
<line x1="304" y1="330.25" x2="307" y2="330.25" stroke="#222" stroke-width="1"/>
<text transform="translate(300.7,332.7) scale(1.04,1)" font-size="8.4" fill="#222" text-anchor="end" font-family="'Liberation Sans', sans-serif">500</text>
<line x1="304" y1="299.4" x2="307" y2="299.4" stroke="#222" stroke-width="1"/>
<text transform="translate(300.7,301.85) scale(1.04,1)" font-size="8.4" fill="#222" text-anchor="end" font-family="'Liberation Sans', sans-serif">1000</text>
<line x1="304" y1="268.55" x2="307" y2="268.55" stroke="#222" stroke-width="1"/>
<text transform="translate(300.7,271) scale(1.04,1)" font-size="8.4" fill="#222" text-anchor="end" font-family="'Liberation Sans', sans-serif">1500</text>
<line x1="304" y1="237.7" x2="307" y2="237.7" stroke="#222" stroke-width="1"/>
<text transform="translate(300.7,240.15) scale(1.04,1)" font-size="8.4" fill="#222" text-anchor="end" font-family="'Liberation Sans', sans-serif">2000</text>
<text x="341.2" y="380.2" font-size="8.2" fill="#000" text-anchor="middle" font-family="'Liberation Sans', sans-serif">Day 0-100</text>
<text x="410.2" y="380.2" font-size="8.2" fill="#000" text-anchor="middle" font-family="'Liberation Sans', sans-serif">Day 101-365</text>
<text x="473.5" y="380.2" font-size="8.2" fill="#000" text-anchor="middle" font-family="'Liberation Sans', sans-serif">Year 1-5</text>
<text transform="translate(410.1,393.6) scale(0.59,1)" font-size="10.8" fill="#111" stroke="#111" stroke-width="0.2" text-anchor="middle" font-family="'Liberation Sans', sans-serif">Period</text>
<text transform="translate(275.8,300.7) rotate(-90) scale(0.589,1)" font-size="10.8" fill="#111" stroke="#111" stroke-width="0.2" text-anchor="middle" font-family="'Liberation Sans', sans-serif">RVUs</text>
<rect x="0.5" y="0.5" width="519" height="401" fill="none" stroke="#000" stroke-width="1.2"/>
</svg>
</body></html>
